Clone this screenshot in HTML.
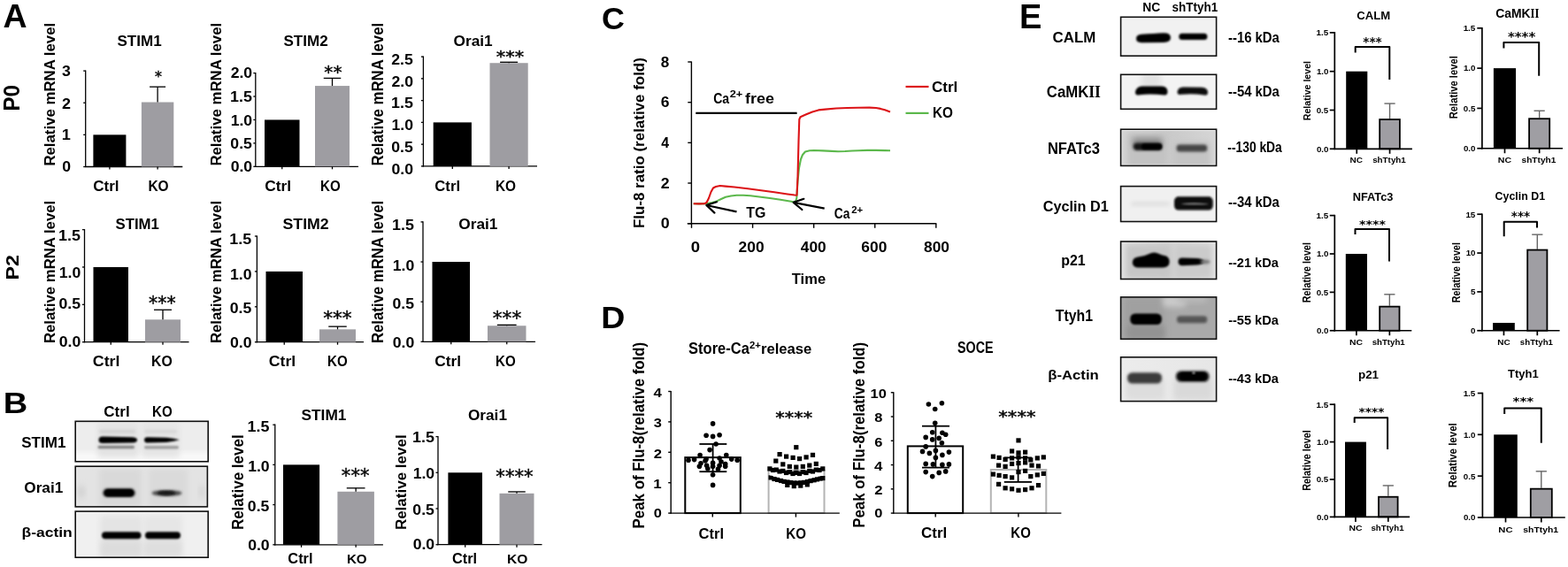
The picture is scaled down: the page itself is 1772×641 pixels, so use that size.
<!DOCTYPE html>
<html><head><meta charset="utf-8"><title>Figure</title>
<style>html,body{margin:0;padding:0;background:#fff;}svg{display:block;}</style></head>
<body><svg width="1772" height="641" viewBox="0 0 1772 641" font-family="'Liberation Sans', Arial, sans-serif">
<rect width="1772" height="641" fill="#fff"/>
<defs>
<filter id="b05" x="-20%" y="-50%" width="140%" height="200%"><feGaussianBlur stdDeviation="0.5"/></filter>
<filter id="b1" x="-20%" y="-50%" width="140%" height="200%"><feGaussianBlur stdDeviation="1.1"/></filter>
<filter id="b15" x="-20%" y="-50%" width="140%" height="200%"><feGaussianBlur stdDeviation="1.5"/></filter>
<filter id="b2" x="-20%" y="-50%" width="140%" height="200%"><feGaussianBlur stdDeviation="2"/></filter>
<filter id="b3" x="-30%" y="-50%" width="160%" height="200%"><feGaussianBlur stdDeviation="3"/></filter>
<linearGradient id="gnf" x1="0" y1="0" x2="1" y2="0"><stop offset="0" stop-color="#d4d4d4"/><stop offset="0.5" stop-color="#c9c9c9"/><stop offset="1" stop-color="#d6d6d6"/></linearGradient>
<linearGradient id="gp21" x1="0" y1="0" x2="1" y2="0"><stop offset="0" stop-color="#e2e2e2"/><stop offset="0.5" stop-color="#d4d4d4"/><stop offset="1" stop-color="#e4e4e4"/></linearGradient>
<linearGradient id="gba" x1="0" y1="0" x2="1" y2="0"><stop offset="0" stop-color="#ececec"/><stop offset="1" stop-color="#e6e6e6"/></linearGradient>
</defs>
<line x1="96.70" y1="79.50" x2="96.70" y2="189.10" stroke="#000" stroke-width="1.3" />
<line x1="96.10" y1="188.50" x2="206.30" y2="188.50" stroke="#000" stroke-width="1.3" />
<line x1="94.20" y1="188.50" x2="96.70" y2="188.50" stroke="#000" stroke-width="1.3" />
<line x1="94.20" y1="152.37" x2="96.70" y2="152.37" stroke="#000" stroke-width="1.3" />
<line x1="94.20" y1="116.23" x2="96.70" y2="116.23" stroke="#000" stroke-width="1.3" />
<line x1="94.20" y1="80.10" x2="96.70" y2="80.10" stroke="#000" stroke-width="1.3" />
<rect x="105.40" y="152.37" width="37.00" height="36.13" fill="#000" stroke="none" stroke-width="0" />
<line x1="123.90" y1="188.50" x2="123.90" y2="191.50" stroke="#000" stroke-width="1.3" />
<rect x="159.90" y="115.51" width="36.40" height="72.99" fill="#9e9da2" stroke="none" stroke-width="0" />
<line x1="178.10" y1="188.50" x2="178.10" y2="191.50" stroke="#000" stroke-width="1.3" />
<line x1="178.10" y1="115.51" x2="178.10" y2="98.17" stroke="#000" stroke-width="1.3" />
<line x1="169.10" y1="98.17" x2="187.10" y2="98.17" stroke="#000" stroke-width="1.3" />
<text x="70.20" y="194.04" font-family="'Liberation Sans', Arial, sans-serif" font-size="15.77" font-weight="bold" fill="#000" textLength="9.83" lengthAdjust="spacingAndGlyphs" >0</text>
<text x="69.66" y="158.20" font-family="'Liberation Sans', Arial, sans-serif" font-size="16.23" font-weight="bold" fill="#000" textLength="10.11" lengthAdjust="spacingAndGlyphs" >1</text>
<text x="70.07" y="122.60" font-family="'Liberation Sans', Arial, sans-serif" font-size="16.00" font-weight="bold" fill="#000" textLength="9.97" lengthAdjust="spacingAndGlyphs" >2</text>
<text x="70.11" y="86.44" font-family="'Liberation Sans', Arial, sans-serif" font-size="15.77" font-weight="bold" fill="#000" textLength="9.83" lengthAdjust="spacingAndGlyphs" >3</text>
<text x="132.49" y="51.64" font-family="'Liberation Sans', Arial, sans-serif" font-size="16.06" font-weight="bold" fill="#000" textLength="50.24" lengthAdjust="spacingAndGlyphs" >STIM1</text>
<text transform="translate(62.33,187.59) rotate(-90)" x="0" y="0" font-family="'Liberation Sans', Arial, sans-serif" font-size="17.28" font-weight="bold" fill="#000" textLength="161.75" lengthAdjust="spacingAndGlyphs">Relative mRNA level</text>
<text x="175.02" y="92.07" font-family="'DejaVu Sans', sans-serif" font-size="16.30" font-weight="normal" fill="#000" textLength="7.95" lengthAdjust="spacingAndGlyphs" stroke="#000" stroke-width="0.4">*</text>
<text x="105.22" y="216.23" font-family="'Liberation Sans', Arial, sans-serif" font-size="16.60" font-weight="bold" fill="#000" textLength="29.33" lengthAdjust="spacingAndGlyphs" >Ctrl</text>
<text x="167.39" y="216.24" font-family="'Liberation Sans', Arial, sans-serif" font-size="16.06" font-weight="bold" fill="#000" textLength="23.20" lengthAdjust="spacingAndGlyphs" >KO</text>
<line x1="288.80" y1="82.00" x2="288.80" y2="188.90" stroke="#000" stroke-width="1.3" />
<line x1="288.20" y1="188.30" x2="405.00" y2="188.30" stroke="#000" stroke-width="1.3" />
<line x1="286.30" y1="188.30" x2="288.80" y2="188.30" stroke="#000" stroke-width="1.3" />
<line x1="286.30" y1="161.88" x2="288.80" y2="161.88" stroke="#000" stroke-width="1.3" />
<line x1="286.30" y1="135.45" x2="288.80" y2="135.45" stroke="#000" stroke-width="1.3" />
<line x1="286.30" y1="109.03" x2="288.80" y2="109.03" stroke="#000" stroke-width="1.3" />
<line x1="286.30" y1="82.60" x2="288.80" y2="82.60" stroke="#000" stroke-width="1.3" />
<rect x="299.00" y="135.45" width="39.50" height="52.85" fill="#000" stroke="none" stroke-width="0" />
<line x1="318.75" y1="188.30" x2="318.75" y2="191.30" stroke="#000" stroke-width="1.3" />
<rect x="356.00" y="97.08" width="39.00" height="91.22" fill="#9e9da2" stroke="none" stroke-width="0" />
<line x1="375.50" y1="188.30" x2="375.50" y2="191.30" stroke="#000" stroke-width="1.3" />
<line x1="375.50" y1="97.08" x2="375.50" y2="88.41" stroke="#000" stroke-width="1.3" />
<line x1="365.75" y1="88.41" x2="385.25" y2="88.41" stroke="#000" stroke-width="1.3" />
<text x="260.65" y="193.94" font-family="'Liberation Sans', Arial, sans-serif" font-size="15.77" font-weight="bold" fill="#000" textLength="24.56" lengthAdjust="spacingAndGlyphs" >0.0</text>
<text x="260.38" y="168.04" font-family="'Liberation Sans', Arial, sans-serif" font-size="15.77" font-weight="bold" fill="#000" textLength="24.56" lengthAdjust="spacingAndGlyphs" >0.5</text>
<text x="260.65" y="141.74" font-family="'Liberation Sans', Arial, sans-serif" font-size="15.77" font-weight="bold" fill="#000" textLength="24.56" lengthAdjust="spacingAndGlyphs" >1.0</text>
<text x="260.04" y="114.84" font-family="'Liberation Sans', Arial, sans-serif" font-size="16.00" font-weight="bold" fill="#000" textLength="24.91" lengthAdjust="spacingAndGlyphs" >1.5</text>
<text x="260.65" y="88.14" font-family="'Liberation Sans', Arial, sans-serif" font-size="15.77" font-weight="bold" fill="#000" textLength="24.56" lengthAdjust="spacingAndGlyphs" >2.0</text>
<text x="320.49" y="51.63" font-family="'Liberation Sans', Arial, sans-serif" font-size="16.76" font-weight="bold" fill="#000" textLength="50.19" lengthAdjust="spacingAndGlyphs" >STIM2</text>
<text transform="translate(250.44,187.59) rotate(-90)" x="0" y="0" font-family="'Liberation Sans', Arial, sans-serif" font-size="16.05" font-weight="bold" fill="#000" textLength="161.75" lengthAdjust="spacingAndGlyphs">Relative mRNA level</text>
<text x="366.39" y="87.98" font-family="'DejaVu Sans', sans-serif" font-size="19.57" font-weight="normal" fill="#000" textLength="20.21" lengthAdjust="spacingAndGlyphs" stroke="#000" stroke-width="0.4">**</text>
<text x="299.31" y="216.23" font-family="'Liberation Sans', Arial, sans-serif" font-size="16.60" font-weight="bold" fill="#000" textLength="29.86" lengthAdjust="spacingAndGlyphs" >Ctrl</text>
<text x="362.02" y="216.24" font-family="'Liberation Sans', Arial, sans-serif" font-size="16.06" font-weight="bold" fill="#000" textLength="22.66" lengthAdjust="spacingAndGlyphs" >KO</text>
<line x1="478.40" y1="63.50" x2="478.40" y2="188.50" stroke="#000" stroke-width="1.3" />
<line x1="477.80" y1="187.90" x2="607.00" y2="187.90" stroke="#000" stroke-width="1.3" />
<line x1="475.90" y1="187.90" x2="478.40" y2="187.90" stroke="#000" stroke-width="1.3" />
<line x1="475.90" y1="163.14" x2="478.40" y2="163.14" stroke="#000" stroke-width="1.3" />
<line x1="475.90" y1="138.38" x2="478.40" y2="138.38" stroke="#000" stroke-width="1.3" />
<line x1="475.90" y1="113.62" x2="478.40" y2="113.62" stroke="#000" stroke-width="1.3" />
<line x1="475.90" y1="88.86" x2="478.40" y2="88.86" stroke="#000" stroke-width="1.3" />
<line x1="475.90" y1="64.10" x2="478.40" y2="64.10" stroke="#000" stroke-width="1.3" />
<rect x="489.70" y="138.38" width="43.20" height="49.52" fill="#000" stroke="none" stroke-width="0" />
<line x1="511.30" y1="187.90" x2="511.30" y2="190.90" stroke="#000" stroke-width="1.3" />
<rect x="553.50" y="71.23" width="43.20" height="116.67" fill="#9e9da2" stroke="none" stroke-width="0" />
<line x1="575.10" y1="187.90" x2="575.10" y2="190.90" stroke="#000" stroke-width="1.3" />
<line x1="575.10" y1="71.23" x2="575.10" y2="70.29" stroke="#000" stroke-width="1.3" />
<line x1="565.10" y1="70.29" x2="585.10" y2="70.29" stroke="#000" stroke-width="1.3" />
<text x="442.55" y="196.74" font-family="'Liberation Sans', Arial, sans-serif" font-size="15.77" font-weight="bold" fill="#000" textLength="24.56" lengthAdjust="spacingAndGlyphs" >0.0</text>
<text x="442.28" y="171.98" font-family="'Liberation Sans', Arial, sans-serif" font-size="15.77" font-weight="bold" fill="#000" textLength="24.56" lengthAdjust="spacingAndGlyphs" >0.5</text>
<text x="442.55" y="147.22" font-family="'Liberation Sans', Arial, sans-serif" font-size="15.77" font-weight="bold" fill="#000" textLength="24.56" lengthAdjust="spacingAndGlyphs" >1.0</text>
<text x="441.94" y="122.46" font-family="'Liberation Sans', Arial, sans-serif" font-size="16.00" font-weight="bold" fill="#000" textLength="24.91" lengthAdjust="spacingAndGlyphs" >1.5</text>
<text x="442.55" y="97.70" font-family="'Liberation Sans', Arial, sans-serif" font-size="15.77" font-weight="bold" fill="#000" textLength="24.56" lengthAdjust="spacingAndGlyphs" >2.0</text>
<text x="442.28" y="72.94" font-family="'Liberation Sans', Arial, sans-serif" font-size="15.77" font-weight="bold" fill="#000" textLength="24.56" lengthAdjust="spacingAndGlyphs" >2.5</text>
<text x="512.61" y="51.64" font-family="'Liberation Sans', Arial, sans-serif" font-size="16.46" font-weight="bold" fill="#000" textLength="44.06" lengthAdjust="spacingAndGlyphs" >Orai1</text>
<text transform="translate(433.42,187.59) rotate(-90)" x="0" y="0" font-family="'Liberation Sans', Arial, sans-serif" font-size="17.69" font-weight="bold" fill="#000" textLength="161.75" lengthAdjust="spacingAndGlyphs">Relative mRNA level</text>
<text x="560.87" y="69.97" font-family="'DejaVu Sans', sans-serif" font-size="18.48" font-weight="normal" fill="#000" textLength="31.35" lengthAdjust="spacingAndGlyphs" stroke="#000" stroke-width="0.4">***</text>
<text x="491.33" y="216.23" font-family="'Liberation Sans', Arial, sans-serif" font-size="16.60" font-weight="bold" fill="#000" textLength="28.69" lengthAdjust="spacingAndGlyphs" >Ctrl</text>
<text x="559.90" y="216.24" font-family="'Liberation Sans', Arial, sans-serif" font-size="16.06" font-weight="bold" fill="#000" textLength="23.09" lengthAdjust="spacingAndGlyphs" >KO</text>
<line x1="95.50" y1="259.00" x2="95.50" y2="387.30" stroke="#000" stroke-width="1.3" />
<line x1="94.90" y1="386.70" x2="213.50" y2="386.70" stroke="#000" stroke-width="1.3" />
<line x1="93.00" y1="386.70" x2="95.50" y2="386.70" stroke="#000" stroke-width="1.3" />
<line x1="93.00" y1="344.33" x2="95.50" y2="344.33" stroke="#000" stroke-width="1.3" />
<line x1="93.00" y1="301.97" x2="95.50" y2="301.97" stroke="#000" stroke-width="1.3" />
<line x1="93.00" y1="259.60" x2="95.50" y2="259.60" stroke="#000" stroke-width="1.3" />
<rect x="105.50" y="301.97" width="39.50" height="84.73" fill="#000" stroke="none" stroke-width="0" />
<line x1="125.25" y1="386.70" x2="125.25" y2="389.70" stroke="#000" stroke-width="1.3" />
<rect x="164.00" y="361.28" width="40.00" height="25.42" fill="#9e9da2" stroke="none" stroke-width="0" />
<line x1="184.00" y1="386.70" x2="184.00" y2="389.70" stroke="#000" stroke-width="1.3" />
<line x1="184.00" y1="361.28" x2="184.00" y2="350.26" stroke="#000" stroke-width="1.3" />
<line x1="174.00" y1="350.26" x2="194.00" y2="350.26" stroke="#000" stroke-width="1.3" />
<text x="66.75" y="391.84" font-family="'Liberation Sans', Arial, sans-serif" font-size="15.77" font-weight="bold" fill="#000" textLength="24.56" lengthAdjust="spacingAndGlyphs" >0.0</text>
<text x="66.48" y="349.24" font-family="'Liberation Sans', Arial, sans-serif" font-size="15.77" font-weight="bold" fill="#000" textLength="24.56" lengthAdjust="spacingAndGlyphs" >0.5</text>
<text x="66.75" y="313.54" font-family="'Liberation Sans', Arial, sans-serif" font-size="15.77" font-weight="bold" fill="#000" textLength="24.56" lengthAdjust="spacingAndGlyphs" >1.0</text>
<text x="66.14" y="271.84" font-family="'Liberation Sans', Arial, sans-serif" font-size="16.00" font-weight="bold" fill="#000" textLength="24.91" lengthAdjust="spacingAndGlyphs" >1.5</text>
<text x="130.50" y="259.34" font-family="'Liberation Sans', Arial, sans-serif" font-size="16.20" font-weight="bold" fill="#000" textLength="49.42" lengthAdjust="spacingAndGlyphs" >STIM1</text>
<text transform="translate(62.03,388.09) rotate(-90)" x="0" y="0" font-family="'Liberation Sans', Arial, sans-serif" font-size="16.87" font-weight="bold" fill="#000" textLength="161.24" lengthAdjust="spacingAndGlyphs">Relative mRNA level</text>
<text x="168.09" y="350.09" font-family="'DejaVu Sans', sans-serif" font-size="21.74" font-weight="normal" fill="#000" textLength="30.52" lengthAdjust="spacingAndGlyphs" stroke="#000" stroke-width="0.4">***</text>
<text x="104.79" y="413.84" font-family="'Liberation Sans', Arial, sans-serif" font-size="16.33" font-weight="bold" fill="#000" textLength="30.71" lengthAdjust="spacingAndGlyphs" >Ctrl</text>
<text x="170.97" y="413.84" font-family="'Liberation Sans', Arial, sans-serif" font-size="15.77" font-weight="bold" fill="#000" textLength="23.74" lengthAdjust="spacingAndGlyphs" >KO</text>
<line x1="290.40" y1="266.40" x2="290.40" y2="387.30" stroke="#000" stroke-width="1.3" />
<line x1="289.80" y1="386.70" x2="411.00" y2="386.70" stroke="#000" stroke-width="1.3" />
<line x1="287.90" y1="386.70" x2="290.40" y2="386.70" stroke="#000" stroke-width="1.3" />
<line x1="287.90" y1="346.80" x2="290.40" y2="346.80" stroke="#000" stroke-width="1.3" />
<line x1="287.90" y1="306.90" x2="290.40" y2="306.90" stroke="#000" stroke-width="1.3" />
<line x1="287.90" y1="267.00" x2="290.40" y2="267.00" stroke="#000" stroke-width="1.3" />
<rect x="300.50" y="306.90" width="41.50" height="79.80" fill="#000" stroke="none" stroke-width="0" />
<line x1="321.25" y1="386.70" x2="321.25" y2="389.70" stroke="#000" stroke-width="1.3" />
<rect x="361.00" y="372.34" width="41.00" height="14.36" fill="#9e9da2" stroke="none" stroke-width="0" />
<line x1="381.50" y1="386.70" x2="381.50" y2="389.70" stroke="#000" stroke-width="1.3" />
<line x1="381.50" y1="372.34" x2="381.50" y2="369.14" stroke="#000" stroke-width="1.3" />
<line x1="371.25" y1="369.14" x2="391.75" y2="369.14" stroke="#000" stroke-width="1.3" />
<text x="259.95" y="393.04" font-family="'Liberation Sans', Arial, sans-serif" font-size="15.77" font-weight="bold" fill="#000" textLength="24.56" lengthAdjust="spacingAndGlyphs" >0.0</text>
<text x="259.68" y="353.94" font-family="'Liberation Sans', Arial, sans-serif" font-size="15.77" font-weight="bold" fill="#000" textLength="24.56" lengthAdjust="spacingAndGlyphs" >0.5</text>
<text x="259.95" y="316.34" font-family="'Liberation Sans', Arial, sans-serif" font-size="15.77" font-weight="bold" fill="#000" textLength="24.56" lengthAdjust="spacingAndGlyphs" >1.0</text>
<text x="259.34" y="276.24" font-family="'Liberation Sans', Arial, sans-serif" font-size="16.00" font-weight="bold" fill="#000" textLength="24.91" lengthAdjust="spacingAndGlyphs" >1.5</text>
<text x="319.47" y="259.34" font-family="'Liberation Sans', Arial, sans-serif" font-size="16.20" font-weight="bold" fill="#000" textLength="52.24" lengthAdjust="spacingAndGlyphs" >STIM2</text>
<text transform="translate(249.84,388.09) rotate(-90)" x="0" y="0" font-family="'Liberation Sans', Arial, sans-serif" font-size="16.33" font-weight="bold" fill="#000" textLength="161.24" lengthAdjust="spacingAndGlyphs">Relative mRNA level</text>
<text x="365.15" y="367.09" font-family="'DejaVu Sans', sans-serif" font-size="21.74" font-weight="normal" fill="#000" textLength="32.50" lengthAdjust="spacingAndGlyphs" stroke="#000" stroke-width="0.4">***</text>
<text x="303.79" y="413.84" font-family="'Liberation Sans', Arial, sans-serif" font-size="16.33" font-weight="bold" fill="#000" textLength="30.39" lengthAdjust="spacingAndGlyphs" >Ctrl</text>
<text x="370.02" y="413.84" font-family="'Liberation Sans', Arial, sans-serif" font-size="15.77" font-weight="bold" fill="#000" textLength="22.66" lengthAdjust="spacingAndGlyphs" >KO</text>
<line x1="478.00" y1="250.30" x2="478.00" y2="386.90" stroke="#000" stroke-width="1.3" />
<line x1="477.40" y1="386.30" x2="605.00" y2="386.30" stroke="#000" stroke-width="1.3" />
<line x1="475.50" y1="386.30" x2="478.00" y2="386.30" stroke="#000" stroke-width="1.3" />
<line x1="475.50" y1="341.17" x2="478.00" y2="341.17" stroke="#000" stroke-width="1.3" />
<line x1="475.50" y1="296.03" x2="478.00" y2="296.03" stroke="#000" stroke-width="1.3" />
<line x1="475.50" y1="250.90" x2="478.00" y2="250.90" stroke="#000" stroke-width="1.3" />
<rect x="488.50" y="296.03" width="42.50" height="90.27" fill="#000" stroke="none" stroke-width="0" />
<line x1="509.75" y1="386.30" x2="509.75" y2="389.30" stroke="#000" stroke-width="1.3" />
<rect x="551.00" y="368.25" width="43.50" height="18.05" fill="#9e9da2" stroke="none" stroke-width="0" />
<line x1="572.75" y1="386.30" x2="572.75" y2="389.30" stroke="#000" stroke-width="1.3" />
<line x1="572.75" y1="368.25" x2="572.75" y2="367.34" stroke="#000" stroke-width="1.3" />
<line x1="561.88" y1="367.34" x2="583.62" y2="367.34" stroke="#000" stroke-width="1.3" />
<text x="443.75" y="392.94" font-family="'Liberation Sans', Arial, sans-serif" font-size="15.77" font-weight="bold" fill="#000" textLength="24.56" lengthAdjust="spacingAndGlyphs" >0.0</text>
<text x="443.48" y="348.64" font-family="'Liberation Sans', Arial, sans-serif" font-size="15.77" font-weight="bold" fill="#000" textLength="24.56" lengthAdjust="spacingAndGlyphs" >0.5</text>
<text x="443.75" y="306.14" font-family="'Liberation Sans', Arial, sans-serif" font-size="15.77" font-weight="bold" fill="#000" textLength="24.56" lengthAdjust="spacingAndGlyphs" >1.0</text>
<text x="443.14" y="259.94" font-family="'Liberation Sans', Arial, sans-serif" font-size="16.00" font-weight="bold" fill="#000" textLength="24.91" lengthAdjust="spacingAndGlyphs" >1.5</text>
<text x="518.31" y="259.34" font-family="'Liberation Sans', Arial, sans-serif" font-size="15.65" font-weight="bold" fill="#000" textLength="44.16" lengthAdjust="spacingAndGlyphs" >Orai1</text>
<text transform="translate(432.82,388.09) rotate(-90)" x="0" y="0" font-family="'Liberation Sans', Arial, sans-serif" font-size="17.69" font-weight="bold" fill="#000" textLength="161.24" lengthAdjust="spacingAndGlyphs">Relative mRNA level</text>
<text x="556.75" y="367.09" font-family="'DejaVu Sans', sans-serif" font-size="21.74" font-weight="normal" fill="#000" textLength="32.50" lengthAdjust="spacingAndGlyphs" stroke="#000" stroke-width="0.4">***</text>
<text x="491.31" y="413.84" font-family="'Liberation Sans', Arial, sans-serif" font-size="16.33" font-weight="bold" fill="#000" textLength="29.86" lengthAdjust="spacingAndGlyphs" >Ctrl</text>
<text x="560.02" y="413.84" font-family="'Liberation Sans', Arial, sans-serif" font-size="15.77" font-weight="bold" fill="#000" textLength="22.66" lengthAdjust="spacingAndGlyphs" >KO</text>
<line x1="310.80" y1="479.60" x2="310.80" y2="616.40" stroke="#000" stroke-width="1.3" />
<line x1="310.20" y1="615.80" x2="432.90" y2="615.80" stroke="#000" stroke-width="1.3" />
<line x1="308.30" y1="615.80" x2="310.80" y2="615.80" stroke="#000" stroke-width="1.3" />
<line x1="308.30" y1="570.60" x2="310.80" y2="570.60" stroke="#000" stroke-width="1.3" />
<line x1="308.30" y1="525.40" x2="310.80" y2="525.40" stroke="#000" stroke-width="1.3" />
<line x1="308.30" y1="480.20" x2="310.80" y2="480.20" stroke="#000" stroke-width="1.3" />
<rect x="320.00" y="525.40" width="41.10" height="90.40" fill="#000" stroke="none" stroke-width="0" />
<line x1="340.55" y1="615.80" x2="340.55" y2="618.80" stroke="#000" stroke-width="1.3" />
<rect x="381.40" y="555.77" width="41.50" height="60.03" fill="#9e9da2" stroke="none" stroke-width="0" />
<line x1="402.15" y1="615.80" x2="402.15" y2="618.80" stroke="#000" stroke-width="1.3" />
<line x1="402.15" y1="555.77" x2="402.15" y2="551.80" stroke="#000" stroke-width="1.3" />
<line x1="391.77" y1="551.80" x2="412.52" y2="551.80" stroke="#000" stroke-width="1.3" />
<text x="280.15" y="621.74" font-family="'Liberation Sans', Arial, sans-serif" font-size="15.77" font-weight="bold" fill="#000" textLength="24.56" lengthAdjust="spacingAndGlyphs" >0.0</text>
<text x="279.88" y="577.54" font-family="'Liberation Sans', Arial, sans-serif" font-size="15.77" font-weight="bold" fill="#000" textLength="24.56" lengthAdjust="spacingAndGlyphs" >0.5</text>
<text x="280.15" y="532.64" font-family="'Liberation Sans', Arial, sans-serif" font-size="15.77" font-weight="bold" fill="#000" textLength="24.56" lengthAdjust="spacingAndGlyphs" >1.0</text>
<text x="279.54" y="487.74" font-family="'Liberation Sans', Arial, sans-serif" font-size="16.00" font-weight="bold" fill="#000" textLength="24.91" lengthAdjust="spacingAndGlyphs" >1.5</text>
<text x="340.48" y="474.83" font-family="'Liberation Sans', Arial, sans-serif" font-size="16.90" font-weight="bold" fill="#000" textLength="50.95" lengthAdjust="spacingAndGlyphs" >STIM1</text>
<text transform="translate(274.81,599.11) rotate(-90)" x="0" y="0" font-family="'Liberation Sans', Arial, sans-serif" font-size="19.05" font-weight="bold" fill="#000" textLength="107.75" lengthAdjust="spacingAndGlyphs">Relative level</text>
<text x="385.87" y="544.57" font-family="'DejaVu Sans', sans-serif" font-size="21.30" font-weight="normal" fill="#000" textLength="31.56" lengthAdjust="spacingAndGlyphs" stroke="#000" stroke-width="0.4">***</text>
<text x="325.35" y="637.24" font-family="'Liberation Sans', Arial, sans-serif" font-size="16.19" font-weight="bold" fill="#000" textLength="28.15" lengthAdjust="spacingAndGlyphs" >Ctrl</text>
<text x="391.92" y="637.25" font-family="'Liberation Sans', Arial, sans-serif" font-size="15.35" font-weight="bold" fill="#000" textLength="22.66" lengthAdjust="spacingAndGlyphs" >KO</text>
<line x1="495.00" y1="493.00" x2="495.00" y2="616.30" stroke="#000" stroke-width="1.3" />
<line x1="494.40" y1="615.70" x2="612.50" y2="615.70" stroke="#000" stroke-width="1.3" />
<line x1="492.50" y1="615.70" x2="495.00" y2="615.70" stroke="#000" stroke-width="1.3" />
<line x1="492.50" y1="575.00" x2="495.00" y2="575.00" stroke="#000" stroke-width="1.3" />
<line x1="492.50" y1="534.30" x2="495.00" y2="534.30" stroke="#000" stroke-width="1.3" />
<line x1="492.50" y1="493.60" x2="495.00" y2="493.60" stroke="#000" stroke-width="1.3" />
<rect x="506.40" y="534.30" width="38.60" height="81.40" fill="#000" stroke="none" stroke-width="0" />
<line x1="525.70" y1="615.70" x2="525.70" y2="618.70" stroke="#000" stroke-width="1.3" />
<rect x="564.50" y="557.82" width="39.00" height="57.88" fill="#9e9da2" stroke="none" stroke-width="0" />
<line x1="584.00" y1="615.70" x2="584.00" y2="618.70" stroke="#000" stroke-width="1.3" />
<line x1="584.00" y1="557.82" x2="584.00" y2="555.95" stroke="#000" stroke-width="1.3" />
<line x1="574.25" y1="555.95" x2="593.75" y2="555.95" stroke="#000" stroke-width="1.3" />
<text x="466.65" y="621.24" font-family="'Liberation Sans', Arial, sans-serif" font-size="15.77" font-weight="bold" fill="#000" textLength="24.56" lengthAdjust="spacingAndGlyphs" >0.0</text>
<text x="466.38" y="581.94" font-family="'Liberation Sans', Arial, sans-serif" font-size="15.77" font-weight="bold" fill="#000" textLength="24.56" lengthAdjust="spacingAndGlyphs" >0.5</text>
<text x="466.65" y="540.84" font-family="'Liberation Sans', Arial, sans-serif" font-size="15.77" font-weight="bold" fill="#000" textLength="24.56" lengthAdjust="spacingAndGlyphs" >1.0</text>
<text x="466.04" y="499.54" font-family="'Liberation Sans', Arial, sans-serif" font-size="16.00" font-weight="bold" fill="#000" textLength="24.91" lengthAdjust="spacingAndGlyphs" >1.5</text>
<text x="529.01" y="474.84" font-family="'Liberation Sans', Arial, sans-serif" font-size="16.33" font-weight="bold" fill="#000" textLength="43.95" lengthAdjust="spacingAndGlyphs" >Orai1</text>
<text transform="translate(458.63,599.11) rotate(-90)" x="0" y="0" font-family="'Liberation Sans', Arial, sans-serif" font-size="16.87" font-weight="bold" fill="#000" textLength="107.75" lengthAdjust="spacingAndGlyphs">Relative level</text>
<text x="560.37" y="546.33" font-family="'DejaVu Sans', sans-serif" font-size="21.52" font-weight="normal" fill="#000" textLength="42.27" lengthAdjust="spacingAndGlyphs" stroke="#000" stroke-width="0.4">****</text>
<text x="510.95" y="637.24" font-family="'Liberation Sans', Arial, sans-serif" font-size="16.19" font-weight="bold" fill="#000" textLength="28.15" lengthAdjust="spacingAndGlyphs" >Ctrl</text>
<text x="572.99" y="637.25" font-family="'Liberation Sans', Arial, sans-serif" font-size="15.35" font-weight="bold" fill="#000" textLength="23.31" lengthAdjust="spacingAndGlyphs" >KO</text>
<text x="3.56" y="31.00" font-family="'Liberation Sans', Arial, sans-serif" font-size="36.23" font-weight="bold" fill="#000" textLength="27.06" lengthAdjust="spacingAndGlyphs" >A</text>
<text transform="translate(22.15,125.57) rotate(-90)" x="0" y="0" font-family="'Liberation Sans', Arial, sans-serif" font-size="25.21" font-weight="bold" fill="#000" textLength="29.62" lengthAdjust="spacingAndGlyphs">P0</text>
<text transform="translate(21.30,316.52) rotate(-90)" x="0" y="0" font-family="'Liberation Sans', Arial, sans-serif" font-size="20.14" font-weight="bold" fill="#000" textLength="28.52" lengthAdjust="spacingAndGlyphs">P2</text>
<text x="3.83" y="467.30" font-family="'Liberation Sans', Arial, sans-serif" font-size="34.06" font-weight="bold" fill="#000" textLength="27.47" lengthAdjust="spacingAndGlyphs" >B</text>
<clipPath id="cl1"><rect x="85.2" y="476.3" width="150.0" height="45.49999999999994"/></clipPath>
<g clip-path="url(#cl1)">
<rect x="85.20" y="476.30" width="150.00" height="45.50" fill="#ededed" stroke="none" stroke-width="0" />
<rect x="80.00" y="511.00" width="160.00" height="19.00" rx="0.00" fill="#f8f8f8" filter="url(#b2)"/>
<rect x="110.00" y="478.00" width="47.00" height="39.00" rx="2.00" fill="#e3e3e3" filter="url(#b3)"/>
<rect x="160.00" y="478.00" width="43.00" height="39.00" rx="2.00" fill="#e5e5e5" filter="url(#b3)"/>
<rect x="112.00" y="486.20" width="41.00" height="3.40" rx="1.70" fill="#d0d0d0" filter="url(#b15)"/>
<rect x="163.00" y="486.20" width="37.00" height="3.40" rx="1.70" fill="#d6d6d6" filter="url(#b15)"/>
<path d="M111.5,497.5 Q111.5,493.8 116,493.6 L150,494.2 Q155,494.8 155,497.5 Q155,500.2 150,500.6 L116,501 Q111.5,501 111.5,497.5 Z" fill="#000" filter="url(#b1)"/>
<path d="M163,497.5 Q163,494.2 167,494.3 L188,494.8 Q197,495.6 203,497.3 Q197,499 188,500 L167,500.6 Q163,500.6 163,497.5 Z" fill="#030303" filter="url(#b1)"/>
<rect x="110.50" y="503.80" width="41.50" height="3.50" rx="1.70" fill="#828282" filter="url(#b1)"/>
<rect x="163.00" y="504.00" width="39.00" height="3.40" rx="1.70" fill="#9c9c9c" filter="url(#b1)"/>
</g>
<rect x="85.20" y="476.30" width="150.00" height="45.50" fill="none" stroke="#111" stroke-width="1.6"/>
<clipPath id="cl2"><rect x="85.2" y="527.2" width="149.2" height="45.69999999999993"/></clipPath>
<g clip-path="url(#cl2)">
<rect x="85.20" y="527.20" width="149.20" height="45.70" fill="#e3e3e3" stroke="none" stroke-width="0" />
<rect x="112.00" y="530.00" width="48.00" height="45.00" rx="3.00" fill="#d9d9d9" filter="url(#b3)"/>
<rect x="168.00" y="530.00" width="44.00" height="45.00" rx="3.00" fill="#dadada" filter="url(#b3)"/>
<ellipse cx="92.00" cy="556.00" rx="4.00" ry="8.00" fill="#d2d2d2" filter="url(#b3)"/>
<ellipse cx="228.00" cy="556.00" rx="3.00" ry="8.00" fill="#d4d4d4" filter="url(#b3)"/>
<rect x="116.50" y="552.60" width="36.00" height="9.20" rx="4.60" fill="#000" filter="url(#b15)"/>
<rect x="119.00" y="553.60" width="31.00" height="7.20" rx="3.60" fill="#000" filter="url(#b1)"/>
<ellipse cx="188.50" cy="557.50" rx="17.00" ry="3.40" fill="#4a4a4a" filter="url(#b15)"/>
<ellipse cx="188.00" cy="557.30" rx="10.00" ry="2.40" fill="#151515" filter="url(#b1)"/>
</g>
<rect x="85.20" y="527.20" width="149.20" height="45.70" fill="none" stroke="#111" stroke-width="1.6"/>
<clipPath id="cl3"><rect x="85.2" y="578.1" width="150.0" height="52.10000000000002"/></clipPath>
<g clip-path="url(#cl3)">
<rect x="85.20" y="578.10" width="150.00" height="52.10" fill="#f0f0f0" stroke="none" stroke-width="0" />
<rect x="113.00" y="583.00" width="48.00" height="47.00" rx="2.00" fill="#e4e4e4" filter="url(#b3)"/>
<rect x="162.00" y="583.00" width="44.00" height="47.00" rx="2.00" fill="#e6e6e6" filter="url(#b3)"/>
<rect x="114.00" y="612.00" width="46.00" height="16.00" rx="2.00" fill="#dcdcdc" filter="url(#b3)"/>
<rect x="163.00" y="612.00" width="42.00" height="16.00" rx="2.00" fill="#dedede" filter="url(#b3)"/>
<rect x="115.00" y="601.30" width="44.50" height="8.00" rx="4.00" fill="#000" filter="url(#b1)"/>
<rect x="164.00" y="601.30" width="40.00" height="8.00" rx="4.00" fill="#000" filter="url(#b1)"/>
</g>
<rect x="85.20" y="578.10" width="150.00" height="52.10" fill="none" stroke="#111" stroke-width="1.6"/>
<text x="117.32" y="470.84" font-family="'Liberation Sans', Arial, sans-serif" font-size="15.65" font-weight="bold" fill="#000" textLength="29.33" lengthAdjust="spacingAndGlyphs" >Ctrl</text>
<text x="172.02" y="470.84" font-family="'Liberation Sans', Arial, sans-serif" font-size="16.20" font-weight="bold" fill="#000" textLength="22.66" lengthAdjust="spacingAndGlyphs" >KO</text>
<text x="24.19" y="506.33" font-family="'Liberation Sans', Arial, sans-serif" font-size="16.90" font-weight="bold" fill="#000" textLength="50.24" lengthAdjust="spacingAndGlyphs" >STIM1</text>
<text x="27.31" y="557.34" font-family="'Liberation Sans', Arial, sans-serif" font-size="16.33" font-weight="bold" fill="#000" textLength="43.95" lengthAdjust="spacingAndGlyphs" >Orai1</text>
<text x="24.48" y="607.23" font-family="'Liberation Sans', Arial, sans-serif" font-size="15.08" font-weight="bold" fill="#000" textLength="57.32" lengthAdjust="spacingAndGlyphs" >β-actin</text>
<text x="680.06" y="32.65" font-family="'Liberation Sans', Arial, sans-serif" font-size="35.21" font-weight="bold" fill="#000" textLength="25.91" lengthAdjust="spacingAndGlyphs" >C</text>
<line x1="781.40" y1="69.50" x2="781.40" y2="253.30" stroke="#000" stroke-width="1.4" />
<line x1="776.80" y1="252.70" x2="1058.30" y2="252.70" stroke="#000" stroke-width="1.4" />
<line x1="777.30" y1="252.70" x2="781.40" y2="252.70" stroke="#000" stroke-width="1.4" />
<line x1="777.30" y1="207.02" x2="781.40" y2="207.02" stroke="#000" stroke-width="1.4" />
<line x1="777.30" y1="161.35" x2="781.40" y2="161.35" stroke="#000" stroke-width="1.4" />
<line x1="777.30" y1="115.68" x2="781.40" y2="115.68" stroke="#000" stroke-width="1.4" />
<line x1="777.30" y1="70.00" x2="781.40" y2="70.00" stroke="#000" stroke-width="1.4" />
<line x1="781.50" y1="252.70" x2="781.50" y2="257.80" stroke="#000" stroke-width="1.4" />
<line x1="850.58" y1="252.70" x2="850.58" y2="257.80" stroke="#000" stroke-width="1.4" />
<line x1="919.66" y1="252.70" x2="919.66" y2="257.80" stroke="#000" stroke-width="1.4" />
<line x1="988.74" y1="252.70" x2="988.74" y2="257.80" stroke="#000" stroke-width="1.4" />
<line x1="1057.82" y1="252.70" x2="1057.82" y2="257.80" stroke="#000" stroke-width="1.4" />
<text x="746.68" y="258.24" font-family="'Liberation Sans', Arial, sans-serif" font-size="16.06" font-weight="bold" fill="#000" textLength="9.95" lengthAdjust="spacingAndGlyphs" >0</text>
<text x="746.78" y="212.72" font-family="'Liberation Sans', Arial, sans-serif" font-size="16.29" font-weight="bold" fill="#000" textLength="9.85" lengthAdjust="spacingAndGlyphs" >2</text>
<text x="747.16" y="167.05" font-family="'Liberation Sans', Arial, sans-serif" font-size="16.52" font-weight="bold" fill="#000" textLength="8.84" lengthAdjust="spacingAndGlyphs" >4</text>
<text x="746.79" y="121.21" font-family="'Liberation Sans', Arial, sans-serif" font-size="16.06" font-weight="bold" fill="#000" textLength="9.75" lengthAdjust="spacingAndGlyphs" >6</text>
<text x="746.88" y="75.54" font-family="'Liberation Sans', Arial, sans-serif" font-size="16.06" font-weight="bold" fill="#000" textLength="9.55" lengthAdjust="spacingAndGlyphs" >8</text>
<text x="780.76" y="285.24" font-family="'Liberation Sans', Arial, sans-serif" font-size="16.20" font-weight="bold" fill="#000" textLength="10.30" lengthAdjust="spacingAndGlyphs" >0</text>
<text x="834.59" y="285.24" font-family="'Liberation Sans', Arial, sans-serif" font-size="16.20" font-weight="bold" fill="#000" textLength="28.96" lengthAdjust="spacingAndGlyphs" >200</text>
<text x="904.84" y="285.24" font-family="'Liberation Sans', Arial, sans-serif" font-size="16.20" font-weight="bold" fill="#000" textLength="28.81" lengthAdjust="spacingAndGlyphs" >400</text>
<text x="973.39" y="285.24" font-family="'Liberation Sans', Arial, sans-serif" font-size="16.20" font-weight="bold" fill="#000" textLength="28.96" lengthAdjust="spacingAndGlyphs" >600</text>
<text x="1043.98" y="285.24" font-family="'Liberation Sans', Arial, sans-serif" font-size="16.20" font-weight="bold" fill="#000" textLength="28.98" lengthAdjust="spacingAndGlyphs" >800</text>
<text x="894.83" y="321.43" font-family="'Liberation Sans', Arial, sans-serif" font-size="16.60" font-weight="bold" fill="#000" textLength="38.26" lengthAdjust="spacingAndGlyphs" >Time</text>
<text transform="translate(728.10,258.10) rotate(-90)" x="0" y="0" font-family="'Liberation Sans', Arial, sans-serif" font-size="16.41" font-weight="bold" fill="#000" textLength="192.95" lengthAdjust="spacingAndGlyphs">Flu-8 ratio (relative fold)</text>
<text x="806.14" y="116.84" font-family="'Liberation Sans', Arial, sans-serif" font-size="16.48" font-weight="bold" fill="#000" textLength="17.97" lengthAdjust="spacingAndGlyphs" >Ca</text>
<text x="824.65" y="109.80" font-family="'Liberation Sans', Arial, sans-serif" font-size="11.57" font-weight="bold" fill="#000" textLength="14.56" lengthAdjust="spacingAndGlyphs" >2+</text>
<text x="842.03" y="116.83" font-family="'Liberation Sans', Arial, sans-serif" font-size="17.14" font-weight="bold" fill="#000" textLength="32.89" lengthAdjust="spacingAndGlyphs" >free</text>
<line x1="786.30" y1="127.90" x2="900.60" y2="127.90" stroke="#000" stroke-width="2.2" />
<line x1="1023.50" y1="98.00" x2="1049.50" y2="98.00" stroke="#dc1418" stroke-width="2.2" />
<text x="1052.92" y="103.64" font-family="'Liberation Sans', Arial, sans-serif" font-size="16.46" font-weight="bold" fill="#000" textLength="29.43" lengthAdjust="spacingAndGlyphs" >Ctrl</text>
<line x1="1023.50" y1="127.90" x2="1049.50" y2="127.90" stroke="#5cb84c" stroke-width="2.2" />
<text x="1053.90" y="133.13" font-family="'Liberation Sans', Arial, sans-serif" font-size="16.62" font-weight="bold" fill="#000" textLength="22.99" lengthAdjust="spacingAndGlyphs" >KO</text>
<polyline points="783.70,230.20 790.00,230.40 798.00,230.30 805.00,229.00 810.00,227.40 815.00,225.00 820.00,222.80 826.00,221.50 832.50,220.80 840.00,220.80 848.00,221.30 858.00,222.50 870.00,224.00 882.00,225.80 894.00,227.80 898.70,228.70 900.30,224.00 901.50,205.00 903.00,190.00 905.00,180.00 907.00,175.00 910.00,171.50 915.00,170.30 920.00,170.00 930.00,170.40 940.00,170.90 947.00,171.20 955.00,171.00 963.00,170.50 970.00,170.20 980.00,169.90 990.00,169.90 1000.00,170.10 1006.00,170.20" fill="none" stroke="#5cb84c" stroke-width="2.1" stroke-linejoin="round" />
<polyline points="783.70,230.20 790.00,230.40 796.00,230.20 798.50,229.00 801.00,224.00 803.50,217.00 806.00,212.50 809.00,211.00 813.70,210.00 820.00,210.60 830.00,211.50 845.00,213.30 860.00,215.30 875.00,217.30 890.00,219.50 898.00,220.50 900.50,220.70 901.50,200.00 902.50,160.00 903.30,135.00 904.50,132.20 910.00,129.80 918.00,126.50 925.00,124.40 932.50,123.60 945.00,122.50 957.50,122.00 970.00,121.80 982.50,121.60 990.00,122.00 995.00,122.90 1000.00,124.30 1006.00,126.50" fill="none" stroke="#dc1418" stroke-width="2.1" stroke-linejoin="round" />
<line x1="798.30" y1="232.00" x2="832.50" y2="239.40" stroke="#000" stroke-width="2.2" />
<polyline points="810.00,228.30 798.30,232.00 807.50,240.60" fill="none" stroke="#000" stroke-width="2.2" stroke-linejoin="round" stroke-linecap="round"/>
<line x1="896.70" y1="228.90" x2="931.70" y2="235.60" stroke="#000" stroke-width="2.2" />
<polyline points="908.40,224.80 896.70,228.90 906.40,237.00" fill="none" stroke="#000" stroke-width="2.2" stroke-linejoin="round" stroke-linecap="round"/>
<text x="843.34" y="245.84" font-family="'Liberation Sans', Arial, sans-serif" font-size="15.77" font-weight="bold" fill="#000" textLength="22.18" lengthAdjust="spacingAndGlyphs" >TG</text>
<text x="942.85" y="247.04" font-family="'Liberation Sans', Arial, sans-serif" font-size="15.77" font-weight="bold" fill="#000" textLength="17.66" lengthAdjust="spacingAndGlyphs" >Ca</text>
<text x="962.30" y="241.20" font-family="'Liberation Sans', Arial, sans-serif" font-size="11.00" font-weight="bold" fill="#000" textLength="12.95" lengthAdjust="spacingAndGlyphs" >2+</text>
<text x="679.36" y="371.20" font-family="'Liberation Sans', Arial, sans-serif" font-size="34.49" font-weight="bold" fill="#000" textLength="27.13" lengthAdjust="spacingAndGlyphs" >D</text>
<rect x="774.30" y="517.15" width="62.50" height="62.95" fill="#fff" stroke="#000" stroke-width="2"/>
<rect x="868.60" y="531.94" width="62.90" height="48.16" fill="#fff" stroke="#b4b4b4" stroke-width="2"/>
<line x1="758.20" y1="441.90" x2="758.20" y2="580.70" stroke="#000" stroke-width="1.4" />
<line x1="757.60" y1="580.10" x2="948.80" y2="580.10" stroke="#000" stroke-width="1.4" />
<line x1="755.20" y1="580.10" x2="758.20" y2="580.10" stroke="#000" stroke-width="1.4" />
<line x1="755.20" y1="545.70" x2="758.20" y2="545.70" stroke="#000" stroke-width="1.4" />
<line x1="755.20" y1="511.30" x2="758.20" y2="511.30" stroke="#000" stroke-width="1.4" />
<line x1="755.20" y1="476.90" x2="758.20" y2="476.90" stroke="#000" stroke-width="1.4" />
<line x1="755.20" y1="442.50" x2="758.20" y2="442.50" stroke="#000" stroke-width="1.4" />
<line x1="805.30" y1="580.10" x2="805.30" y2="584.60" stroke="#000" stroke-width="1.4" />
<line x1="899.40" y1="580.10" x2="899.40" y2="584.60" stroke="#000" stroke-width="1.4" />
<text x="738.74" y="585.25" font-family="'Liberation Sans', Arial, sans-serif" font-size="14.93" font-weight="bold" fill="#000" textLength="9.13" lengthAdjust="spacingAndGlyphs" >0</text>
<text x="738.31" y="552.20" font-family="'Liberation Sans', Arial, sans-serif" font-size="15.36" font-weight="bold" fill="#000" textLength="9.40" lengthAdjust="spacingAndGlyphs" >1</text>
<text x="738.72" y="517.80" font-family="'Liberation Sans', Arial, sans-serif" font-size="15.14" font-weight="bold" fill="#000" textLength="9.26" lengthAdjust="spacingAndGlyphs" >2</text>
<text x="738.82" y="483.25" font-family="'Liberation Sans', Arial, sans-serif" font-size="14.93" font-weight="bold" fill="#000" textLength="9.13" lengthAdjust="spacingAndGlyphs" >3</text>
<text x="738.53" y="449.00" font-family="'Liberation Sans', Arial, sans-serif" font-size="15.36" font-weight="bold" fill="#000" textLength="9.40" lengthAdjust="spacingAndGlyphs" >4</text>
<circle cx="805.60" cy="478.90" r="2.8" fill="#000"/>
<circle cx="798.10" cy="492.20" r="2.8" fill="#000"/>
<circle cx="805.60" cy="493.40" r="2.8" fill="#000"/>
<circle cx="813.10" cy="491.80" r="2.8" fill="#000"/>
<circle cx="809.10" cy="502.00" r="2.8" fill="#000"/>
<circle cx="802.10" cy="508.60" r="2.8" fill="#000"/>
<circle cx="791.10" cy="514.50" r="2.8" fill="#000"/>
<circle cx="820.80" cy="514.50" r="2.8" fill="#000"/>
<circle cx="778.00" cy="520.30" r="2.8" fill="#000"/>
<circle cx="784.60" cy="519.60" r="2.8" fill="#000"/>
<circle cx="798.10" cy="519.10" r="2.8" fill="#000"/>
<circle cx="813.10" cy="518.00" r="2.8" fill="#000"/>
<circle cx="826.70" cy="519.10" r="2.8" fill="#000"/>
<circle cx="833.20" cy="520.30" r="2.8" fill="#000"/>
<circle cx="792.00" cy="523.80" r="2.8" fill="#000"/>
<circle cx="798.60" cy="526.20" r="2.8" fill="#000"/>
<circle cx="805.60" cy="523.40" r="2.8" fill="#000"/>
<circle cx="813.10" cy="526.20" r="2.8" fill="#000"/>
<circle cx="819.70" cy="524.50" r="2.8" fill="#000"/>
<circle cx="790.40" cy="527.30" r="2.8" fill="#000"/>
<circle cx="799.80" cy="529.70" r="2.8" fill="#000"/>
<circle cx="805.60" cy="527.30" r="2.8" fill="#000"/>
<circle cx="811.50" cy="530.40" r="2.8" fill="#000"/>
<circle cx="819.70" cy="527.30" r="2.8" fill="#000"/>
<circle cx="805.60" cy="536.70" r="2.8" fill="#000"/>
<circle cx="805.60" cy="548.40" r="2.8" fill="#000"/>
<circle cx="797.00" cy="521.00" r="2.8" fill="#000"/>
<circle cx="815.00" cy="522.00" r="2.8" fill="#000"/>
<line x1="805.60" y1="502.00" x2="805.60" y2="533.20" stroke="#000" stroke-width="1.8" />
<line x1="790.40" y1="502.00" x2="821.30" y2="502.00" stroke="#000" stroke-width="1.8" />
<line x1="790.40" y1="533.20" x2="821.30" y2="533.20" stroke="#000" stroke-width="1.8" />
<rect x="897.20" y="503.10" width="5.2" height="5.2" fill="#000"/>
<rect x="878.50" y="511.00" width="5.2" height="5.2" fill="#000"/>
<rect x="886.00" y="513.50" width="5.2" height="5.2" fill="#000"/>
<rect x="893.50" y="514.80" width="5.2" height="5.2" fill="#000"/>
<rect x="901.00" y="516.00" width="5.2" height="5.2" fill="#000"/>
<rect x="908.50" y="514.30" width="5.2" height="5.2" fill="#000"/>
<rect x="915.90" y="511.80" width="5.2" height="5.2" fill="#000"/>
<rect x="874.20" y="518.50" width="5.2" height="5.2" fill="#000"/>
<rect x="882.20" y="522.30" width="5.2" height="5.2" fill="#000"/>
<rect x="889.70" y="524.80" width="5.2" height="5.2" fill="#000"/>
<rect x="897.20" y="525.50" width="5.2" height="5.2" fill="#000"/>
<rect x="904.70" y="524.80" width="5.2" height="5.2" fill="#000"/>
<rect x="912.20" y="523.50" width="5.2" height="5.2" fill="#000"/>
<rect x="919.70" y="521.80" width="5.2" height="5.2" fill="#000"/>
<rect x="867.30" y="527.30" width="5.2" height="5.2" fill="#000"/>
<rect x="874.70" y="528.50" width="5.2" height="5.2" fill="#000"/>
<rect x="882.20" y="529.80" width="5.2" height="5.2" fill="#000"/>
<rect x="889.70" y="531.00" width="5.2" height="5.2" fill="#000"/>
<rect x="897.20" y="531.80" width="5.2" height="5.2" fill="#000"/>
<rect x="904.70" y="531.00" width="5.2" height="5.2" fill="#000"/>
<rect x="912.20" y="529.80" width="5.2" height="5.2" fill="#000"/>
<rect x="919.70" y="528.50" width="5.2" height="5.2" fill="#000"/>
<rect x="927.20" y="527.30" width="5.2" height="5.2" fill="#000"/>
<rect x="870.90" y="528.90" width="5.2" height="5.2" fill="#000"/>
<rect x="878.40" y="530.40" width="5.2" height="5.2" fill="#000"/>
<rect x="885.90" y="531.90" width="5.2" height="5.2" fill="#000"/>
<rect x="893.40" y="532.90" width="5.2" height="5.2" fill="#000"/>
<rect x="900.90" y="532.90" width="5.2" height="5.2" fill="#000"/>
<rect x="908.40" y="531.90" width="5.2" height="5.2" fill="#000"/>
<rect x="915.90" y="530.40" width="5.2" height="5.2" fill="#000"/>
<rect x="923.40" y="528.90" width="5.2" height="5.2" fill="#000"/>
<rect x="868.50" y="537.30" width="5.2" height="5.2" fill="#000"/>
<rect x="876.00" y="539.80" width="5.2" height="5.2" fill="#000"/>
<rect x="883.50" y="541.80" width="5.2" height="5.2" fill="#000"/>
<rect x="891.00" y="543.00" width="5.2" height="5.2" fill="#000"/>
<rect x="898.50" y="543.50" width="5.2" height="5.2" fill="#000"/>
<rect x="906.00" y="542.80" width="5.2" height="5.2" fill="#000"/>
<rect x="913.50" y="541.00" width="5.2" height="5.2" fill="#000"/>
<rect x="920.90" y="539.30" width="5.2" height="5.2" fill="#000"/>
<rect x="927.20" y="538.00" width="5.2" height="5.2" fill="#000"/>
<rect x="872.40" y="538.90" width="5.2" height="5.2" fill="#000"/>
<rect x="879.90" y="540.90" width="5.2" height="5.2" fill="#000"/>
<rect x="887.40" y="542.40" width="5.2" height="5.2" fill="#000"/>
<rect x="894.90" y="543.40" width="5.2" height="5.2" fill="#000"/>
<rect x="902.40" y="543.20" width="5.2" height="5.2" fill="#000"/>
<rect x="909.90" y="542.00" width="5.2" height="5.2" fill="#000"/>
<rect x="917.40" y="540.20" width="5.2" height="5.2" fill="#000"/>
<rect x="924.40" y="538.40" width="5.2" height="5.2" fill="#000"/>
<rect x="887.20" y="545.80" width="5.2" height="5.2" fill="#000"/>
<rect x="894.70" y="547.00" width="5.2" height="5.2" fill="#000"/>
<rect x="902.20" y="546.50" width="5.2" height="5.2" fill="#000"/>
<rect x="909.70" y="545.30" width="5.2" height="5.2" fill="#000"/>
<polyline points="870.00,536.50 880.00,538.50 890.00,539.80 900.00,540.30 910.00,539.80 920.00,538.50 930.00,536.80" fill="none" stroke="#fff" stroke-width="1.3" stroke-linejoin="round" />
<text x="789.64" y="609.14" font-family="'Liberation Sans', Arial, sans-serif" font-size="16.46" font-weight="bold" fill="#000" textLength="28.47" lengthAdjust="spacingAndGlyphs" >Ctrl</text>
<text x="888.22" y="609.14" font-family="'Liberation Sans', Arial, sans-serif" font-size="16.20" font-weight="bold" fill="#000" textLength="22.66" lengthAdjust="spacingAndGlyphs" >KO</text>
<text x="876.37" y="478.19" font-family="'DejaVu Sans', sans-serif" font-size="16.74" font-weight="normal" fill="#000" textLength="41.86" lengthAdjust="spacingAndGlyphs" stroke="#000" stroke-width="0.4">****</text>
<text x="778.10" y="400.42" font-family="'Liberation Sans', Arial, sans-serif" font-size="18.45" font-weight="bold" fill="#000" textLength="68.77" lengthAdjust="spacingAndGlyphs" >Store-Ca</text>
<text x="847.01" y="394.30" font-family="'Liberation Sans', Arial, sans-serif" font-size="11.00" font-weight="bold" fill="#000" textLength="12.85" lengthAdjust="spacingAndGlyphs" >2+</text>
<text x="859.92" y="400.44" font-family="'Liberation Sans', Arial, sans-serif" font-size="15.92" font-weight="bold" fill="#000" textLength="57.41" lengthAdjust="spacingAndGlyphs" >release</text>
<text transform="translate(728.10,597.39) rotate(-90)" x="0" y="0" font-family="'Liberation Sans', Arial, sans-serif" font-size="18.34" font-weight="bold" fill="#000" textLength="210.60" lengthAdjust="spacingAndGlyphs">Peak of Flu-8(relative fold)</text>
<rect x="1025.80" y="504.43" width="62.40" height="75.67" fill="#fff" stroke="#000" stroke-width="2"/>
<rect x="1119.80" y="531.01" width="62.50" height="49.09" fill="#fff" stroke="#b4b4b4" stroke-width="2"/>
<line x1="1009.80" y1="443.15" x2="1009.80" y2="580.70" stroke="#000" stroke-width="1.4" />
<line x1="1009.20" y1="580.10" x2="1199.40" y2="580.10" stroke="#000" stroke-width="1.4" />
<line x1="1006.80" y1="580.10" x2="1009.80" y2="580.10" stroke="#000" stroke-width="1.4" />
<line x1="1006.80" y1="552.83" x2="1009.80" y2="552.83" stroke="#000" stroke-width="1.4" />
<line x1="1006.80" y1="525.56" x2="1009.80" y2="525.56" stroke="#000" stroke-width="1.4" />
<line x1="1006.80" y1="498.29" x2="1009.80" y2="498.29" stroke="#000" stroke-width="1.4" />
<line x1="1006.80" y1="471.02" x2="1009.80" y2="471.02" stroke="#000" stroke-width="1.4" />
<line x1="1006.80" y1="443.75" x2="1009.80" y2="443.75" stroke="#000" stroke-width="1.4" />
<line x1="1057.20" y1="580.10" x2="1057.20" y2="584.60" stroke="#000" stroke-width="1.4" />
<line x1="1150.90" y1="580.10" x2="1150.90" y2="584.60" stroke="#000" stroke-width="1.4" />
<text x="988.34" y="585.25" font-family="'Liberation Sans', Arial, sans-serif" font-size="14.93" font-weight="bold" fill="#000" textLength="9.13" lengthAdjust="spacingAndGlyphs" >0</text>
<text x="988.32" y="559.33" font-family="'Liberation Sans', Arial, sans-serif" font-size="15.14" font-weight="bold" fill="#000" textLength="9.26" lengthAdjust="spacingAndGlyphs" >2</text>
<text x="988.13" y="532.06" font-family="'Liberation Sans', Arial, sans-serif" font-size="15.36" font-weight="bold" fill="#000" textLength="9.40" lengthAdjust="spacingAndGlyphs" >4</text>
<text x="988.34" y="504.64" font-family="'Liberation Sans', Arial, sans-serif" font-size="14.93" font-weight="bold" fill="#000" textLength="9.13" lengthAdjust="spacingAndGlyphs" >6</text>
<text x="988.34" y="477.37" font-family="'Liberation Sans', Arial, sans-serif" font-size="14.93" font-weight="bold" fill="#000" textLength="9.13" lengthAdjust="spacingAndGlyphs" >8</text>
<text x="983.62" y="450.10" font-family="'Liberation Sans', Arial, sans-serif" font-size="14.93" font-weight="bold" fill="#000" textLength="18.27" lengthAdjust="spacingAndGlyphs" >10</text>
<circle cx="1049.40" cy="457.00" r="2.8" fill="#000"/>
<circle cx="1064.40" cy="455.70" r="2.8" fill="#000"/>
<circle cx="1056.70" cy="462.50" r="2.8" fill="#000"/>
<circle cx="1056.70" cy="478.20" r="2.8" fill="#000"/>
<circle cx="1053.70" cy="488.70" r="2.8" fill="#000"/>
<circle cx="1064.90" cy="489.20" r="2.8" fill="#000"/>
<circle cx="1068.70" cy="491.20" r="2.8" fill="#000"/>
<circle cx="1046.20" cy="494.40" r="2.8" fill="#000"/>
<circle cx="1053.70" cy="496.90" r="2.8" fill="#000"/>
<circle cx="1061.20" cy="495.40" r="2.8" fill="#000"/>
<circle cx="1064.40" cy="500.70" r="2.8" fill="#000"/>
<circle cx="1046.20" cy="504.90" r="2.8" fill="#000"/>
<circle cx="1042.50" cy="510.40" r="2.8" fill="#000"/>
<circle cx="1050.40" cy="512.40" r="2.8" fill="#000"/>
<circle cx="1057.40" cy="509.40" r="2.8" fill="#000"/>
<circle cx="1064.90" cy="514.40" r="2.8" fill="#000"/>
<circle cx="1072.40" cy="511.10" r="2.8" fill="#000"/>
<circle cx="1057.40" cy="517.40" r="2.8" fill="#000"/>
<circle cx="1046.20" cy="524.40" r="2.8" fill="#000"/>
<circle cx="1054.40" cy="524.90" r="2.8" fill="#000"/>
<circle cx="1064.90" cy="525.40" r="2.8" fill="#000"/>
<circle cx="1072.40" cy="524.90" r="2.8" fill="#000"/>
<circle cx="1046.20" cy="533.60" r="2.8" fill="#000"/>
<circle cx="1061.20" cy="534.40" r="2.8" fill="#000"/>
<circle cx="1068.70" cy="532.90" r="2.8" fill="#000"/>
<circle cx="1053.70" cy="538.60" r="2.8" fill="#000"/>
<line x1="1057.40" y1="481.70" x2="1057.40" y2="528.60" stroke="#000" stroke-width="1.8" />
<line x1="1042.00" y1="481.70" x2="1073.00" y2="481.70" stroke="#000" stroke-width="1.8" />
<line x1="1042.00" y1="528.60" x2="1073.00" y2="528.60" stroke="#000" stroke-width="1.8" />
<line x1="1150.60" y1="517.40" x2="1150.60" y2="544.90" stroke="#000" stroke-width="1.8" />
<line x1="1134.80" y1="517.40" x2="1166.00" y2="517.40" stroke="#000" stroke-width="1.8" />
<line x1="1134.80" y1="544.90" x2="1166.00" y2="544.90" stroke="#000" stroke-width="1.8" />
<rect x="1148.40" y="495.30" width="5.2" height="5.2" fill="#000"/>
<rect x="1141.00" y="507.40" width="5.2" height="5.2" fill="#000"/>
<rect x="1148.40" y="509.30" width="5.2" height="5.2" fill="#000"/>
<rect x="1156.00" y="508.60" width="5.2" height="5.2" fill="#000"/>
<rect x="1119.80" y="513.50" width="5.2" height="5.2" fill="#000"/>
<rect x="1126.50" y="514.80" width="5.2" height="5.2" fill="#000"/>
<rect x="1133.50" y="516.80" width="5.2" height="5.2" fill="#000"/>
<rect x="1141.00" y="515.30" width="5.2" height="5.2" fill="#000"/>
<rect x="1148.40" y="514.30" width="5.2" height="5.2" fill="#000"/>
<rect x="1156.00" y="515.30" width="5.2" height="5.2" fill="#000"/>
<rect x="1162.20" y="517.30" width="5.2" height="5.2" fill="#000"/>
<rect x="1169.70" y="515.30" width="5.2" height="5.2" fill="#000"/>
<rect x="1176.70" y="514.30" width="5.2" height="5.2" fill="#000"/>
<rect x="1126.00" y="523.50" width="5.2" height="5.2" fill="#000"/>
<rect x="1133.50" y="524.80" width="5.2" height="5.2" fill="#000"/>
<rect x="1141.00" y="521.80" width="5.2" height="5.2" fill="#000"/>
<rect x="1148.40" y="521.00" width="5.2" height="5.2" fill="#000"/>
<rect x="1156.00" y="520.30" width="5.2" height="5.2" fill="#000"/>
<rect x="1163.40" y="523.50" width="5.2" height="5.2" fill="#000"/>
<rect x="1170.90" y="524.30" width="5.2" height="5.2" fill="#000"/>
<rect x="1119.80" y="533.50" width="5.2" height="5.2" fill="#000"/>
<rect x="1126.50" y="534.80" width="5.2" height="5.2" fill="#000"/>
<rect x="1133.50" y="536.00" width="5.2" height="5.2" fill="#000"/>
<rect x="1141.00" y="537.30" width="5.2" height="5.2" fill="#000"/>
<rect x="1148.40" y="531.00" width="5.2" height="5.2" fill="#000"/>
<rect x="1156.00" y="529.80" width="5.2" height="5.2" fill="#000"/>
<rect x="1162.20" y="536.00" width="5.2" height="5.2" fill="#000"/>
<rect x="1169.70" y="534.30" width="5.2" height="5.2" fill="#000"/>
<rect x="1176.70" y="532.80" width="5.2" height="5.2" fill="#000"/>
<rect x="1126.00" y="544.80" width="5.2" height="5.2" fill="#000"/>
<rect x="1133.50" y="549.20" width="5.2" height="5.2" fill="#000"/>
<rect x="1141.00" y="550.20" width="5.2" height="5.2" fill="#000"/>
<rect x="1148.40" y="551.70" width="5.2" height="5.2" fill="#000"/>
<rect x="1156.00" y="551.00" width="5.2" height="5.2" fill="#000"/>
<rect x="1163.40" y="549.20" width="5.2" height="5.2" fill="#000"/>
<rect x="1170.90" y="546.00" width="5.2" height="5.2" fill="#000"/>
<text x="1041.12" y="608.13" font-family="'Liberation Sans', Arial, sans-serif" font-size="16.60" font-weight="bold" fill="#000" textLength="29.22" lengthAdjust="spacingAndGlyphs" >Ctrl</text>
<text x="1142.33" y="607.64" font-family="'Liberation Sans', Arial, sans-serif" font-size="15.77" font-weight="bold" fill="#000" textLength="22.45" lengthAdjust="spacingAndGlyphs" >KO</text>
<text x="1128.37" y="476.73" font-family="'DejaVu Sans', sans-serif" font-size="17.61" font-weight="normal" fill="#000" textLength="42.06" lengthAdjust="spacingAndGlyphs" stroke="#000" stroke-width="0.4">****</text>
<text x="1082.07" y="399.32" font-family="'Liberation Sans', Arial, sans-serif" font-size="17.61" font-weight="bold" fill="#000" textLength="40.49" lengthAdjust="spacingAndGlyphs" >SOCE</text>
<text transform="translate(977.30,596.69) rotate(-90)" x="0" y="0" font-family="'Liberation Sans', Arial, sans-serif" font-size="17.93" font-weight="bold" fill="#000" textLength="209.89" lengthAdjust="spacingAndGlyphs">Peak of Flu-8(relative fold)</text>
<text x="1152.03" y="31.80" font-family="'Liberation Sans', Arial, sans-serif" font-size="38.41" font-weight="bold" fill="#000" textLength="25.38" lengthAdjust="spacingAndGlyphs" >E</text>
<text x="1291.20" y="12.70" font-family="'Liberation Sans', Arial, sans-serif" font-size="14.57" font-weight="bold" fill="#000" textLength="19.90" lengthAdjust="spacingAndGlyphs">NC</text>
<text x="1324.53" y="12.70" font-family="'Liberation Sans', Arial, sans-serif" font-size="14.07" font-weight="bold" fill="#000" textLength="51.70" lengthAdjust="spacingAndGlyphs">shTtyh1</text>
<clipPath id="cl4"><rect x="1266.6" y="19.3" width="108.0" height="43.900000000000006"/></clipPath>
<g clip-path="url(#cl4)">
<rect x="1266.60" y="19.30" width="108.00" height="43.90" fill="#f1f1f1" stroke="none" stroke-width="0" />
<path d="M1284,43.5 Q1284,39.2 1290,38.8 Q1305,38 1315,37.3 Q1323,37.3 1323,42.5 Q1323,47.8 1315,47.9 L1290,48.2 Q1284,48.1 1284,43.5 Z" fill="#000" filter="url(#b1)"/>
<rect x="1332.30" y="37.80" width="32.10" height="7.30" rx="3.60" fill="#000" filter="url(#b1)"/>
</g>
<rect x="1266.60" y="19.30" width="108.00" height="43.90" fill="none" stroke="#111" stroke-width="1.6"/>
<clipPath id="cl5"><rect x="1266.6" y="84.3" width="108.0" height="39.0"/></clipPath>
<g clip-path="url(#cl5)">
<rect x="1266.60" y="84.30" width="108.00" height="39.00" fill="#f3f3f3" stroke="none" stroke-width="0" />
<rect x="1290.00" y="80.00" width="22.00" height="20.00" rx="4.00" fill="#e2e2e2" filter="url(#b3)"/>
<path d="M1283,104.5 Q1283.5,98.5 1290,97.6 L1313,97.4 Q1319.5,98 1319.5,103.5 Q1319.5,107.8 1316,107.6 Q1301,105.8 1288,107.2 Q1283,108.5 1283,104.5 Z" fill="#000" filter="url(#b1)"/>
<path d="M1330.5,104 Q1331,98.8 1337,98.4 L1358,98.8 Q1365,99.5 1365,104.5 Q1365,108.2 1361,107.5 Q1348,105.3 1335,106.8 Q1330.5,107.8 1330.5,104 Z" fill="#0a0a0a" filter="url(#b1)"/>
</g>
<rect x="1266.60" y="84.30" width="108.00" height="39.00" fill="none" stroke="#111" stroke-width="1.6"/>
<clipPath id="cl6"><rect x="1266.6" y="146.2" width="108.0" height="41.20000000000002"/></clipPath>
<g clip-path="url(#cl6)">
<rect x="1266.6" y="146.2" width="108.0" height="41.20000000000002" fill="url(#gnf)"/>
<rect x="1274.00" y="150.00" width="44.00" height="40.00" rx="4.00" fill="#c2c2c2" filter="url(#b3)"/>
<rect x="1326.00" y="160.00" width="42.00" height="30.00" rx="4.00" fill="#c4c4c4" filter="url(#b3)"/>
<rect x="1280.00" y="156.00" width="33.50" height="10.00" rx="4.00" fill="#8a8a8a" filter="url(#b3)"/>
<rect x="1280.70" y="161.50" width="32.60" height="8.50" rx="4.00" fill="#151515" filter="url(#b15)"/>
<rect x="1290.00" y="162.50" width="23.00" height="6.50" rx="3.00" fill="#000" filter="url(#b1)"/>
<rect x="1329.60" y="163.60" width="34.60" height="8.00" rx="3.50" fill="#454545" filter="url(#b15)"/>
<rect x="1267.8" y="147.4" width="105.6" height="38.8" fill="none" stroke="#f4f4f4" stroke-width="0.8"/>
</g>
<rect x="1266.60" y="146.20" width="108.00" height="41.20" fill="none" stroke="#111" stroke-width="1.6"/>
<clipPath id="cl7"><rect x="1266.6" y="210.6" width="108.0" height="39.900000000000006"/></clipPath>
<g clip-path="url(#cl7)">
<rect x="1266.60" y="210.60" width="108.00" height="39.90" fill="#f0f0f0" stroke="none" stroke-width="0" />
<rect x="1278.00" y="228.00" width="44.00" height="5.00" rx="2.50" fill="#e0e0e0" filter="url(#b2)"/>
<rect x="1327.00" y="222.20" width="43.70" height="15.40" rx="5.00" fill="#0a0a0a" filter="url(#b1)"/>
<path d="M1334,230.6 Q1345,229.2 1356,229.8 Q1364,230.3 1366,231 Q1356,231.3 1345,231.2 Q1338,231.3 1334,230.6 Z" fill="#9a9a9a" filter="url(#b1)"/>
</g>
<rect x="1266.60" y="210.60" width="108.00" height="39.90" fill="none" stroke="#111" stroke-width="1.6"/>
<clipPath id="cl8"><rect x="1266.6" y="273.0" width="108.0" height="42.5"/></clipPath>
<g clip-path="url(#cl8)">
<rect x="1266.6" y="273.0" width="108.0" height="42.5" fill="url(#gp21)"/>
<rect x="1272.00" y="276.00" width="52.00" height="39.00" rx="4.00" fill="#c6c6c6" filter="url(#b3)"/>
<rect x="1327.00" y="276.00" width="43.00" height="39.00" rx="4.00" fill="#cbcbcb" filter="url(#b3)"/>
<path d="M1279.8,297 Q1279.8,291.5 1286,290.6 Q1293,289.8 1298,287.2 Q1303,284.6 1308,286.2 Q1313,288.4 1318,289.6 Q1321.8,291.5 1321.6,296.5 Q1321.4,302.2 1314,302.4 L1287,302.6 Q1279.8,302.4 1279.8,297 Z" fill="#000" filter="url(#b1)"/>
<path d="M1331.5,295.8 Q1331.5,291.6 1336,291.5 L1353,292 Q1360,292.6 1361,295.8 Q1360,299 1353,299.6 L1336,300.2 Q1331.5,300.2 1331.5,295.8 Z" fill="#000" filter="url(#b1)"/>
<ellipse cx="1362.00" cy="296.00" rx="5.50" ry="2.60" fill="#7a7a7a" filter="url(#b15)"/>
</g>
<rect x="1266.60" y="273.00" width="108.00" height="42.50" fill="none" stroke="#111" stroke-width="1.6"/>
<clipPath id="cl9"><rect x="1266.6" y="335.9" width="108.0" height="47.400000000000034"/></clipPath>
<g clip-path="url(#cl9)">
<rect x="1266.60" y="335.90" width="108.00" height="47.40" fill="#a9a9a9" stroke="none" stroke-width="0" />
<rect x="1270.00" y="336.00" width="46.00" height="48.00" rx="4.00" fill="#a0a0a0" filter="url(#b3)"/>
<rect x="1314.00" y="334.00" width="26.00" height="13.00" rx="4.00" fill="#cacaca" filter="url(#b3)"/>
<rect x="1330.00" y="334.00" width="34.00" height="8.00" rx="4.00" fill="#bababa" filter="url(#b3)"/>
<rect x="1274.00" y="368.00" width="42.00" height="16.00" rx="3.00" fill="#939393" filter="url(#b3)"/>
<rect x="1277.30" y="354.40" width="35.50" height="12.60" rx="5.50" fill="#000" filter="url(#b1)"/>
<rect x="1330.00" y="357.20" width="34.20" height="8.00" rx="3.50" fill="#555" filter="url(#b15)"/>
</g>
<rect x="1266.60" y="335.90" width="108.00" height="47.40" fill="none" stroke="#111" stroke-width="1.6"/>
<clipPath id="cl10"><rect x="1266.6" y="403.8" width="108.0" height="49.80000000000001"/></clipPath>
<g clip-path="url(#cl10)">
<rect x="1266.6" y="403.8" width="108.0" height="49.80000000000001" fill="url(#gba)"/>
<rect x="1272.00" y="428.00" width="44.00" height="24.00" rx="4.00" fill="#dddddd" filter="url(#b3)"/>
<rect x="1326.00" y="428.00" width="44.00" height="24.00" rx="4.00" fill="#d9d9d9" filter="url(#b3)"/>
<rect x="1274.00" y="421.20" width="39.00" height="12.40" rx="5.50" fill="#3a3a3a" filter="url(#b15)"/>
<rect x="1329.00" y="419.60" width="37.40" height="12.00" rx="5.50" fill="#101010" filter="url(#b15)"/>
<rect x="1333.00" y="421.00" width="30.00" height="9.00" rx="4.00" fill="#000" filter="url(#b1)"/>
<ellipse cx="1349.00" cy="421.50" rx="1.50" ry="1.00" fill="#ffffff" filter="url(#b1)"/>
</g>
<rect x="1266.60" y="403.80" width="108.00" height="49.80" fill="none" stroke="#111" stroke-width="1.6"/>
<text x="1189.52" y="48.30" font-family="'Liberation Sans', Arial, sans-serif" font-size="16.71" font-weight="bold" fill="#000" textLength="48.83" lengthAdjust="spacingAndGlyphs">CALM</text>
<text x="1182.83" y="110.00" font-family="'Liberation Sans', Arial, sans-serif" font-size="17.43" font-weight="bold" fill="#000" textLength="47.40" lengthAdjust="spacingAndGlyphs">CaMK</text>
<text x="1230.18" y="110.00" font-family="'Liberation Serif', serif" font-size="18.63" font-weight="bold" fill="#000" textLength="13.70" lengthAdjust="spacingAndGlyphs" >II</text>
<text x="1183.93" y="173.70" font-family="'Liberation Sans', Arial, sans-serif" font-size="17.86" font-weight="bold" fill="#000" textLength="58.95" lengthAdjust="spacingAndGlyphs">NFATc3</text>
<text x="1178.85" y="238.50" font-family="'Liberation Sans', Arial, sans-serif" font-size="17.24" font-weight="bold" fill="#000" textLength="73.89" lengthAdjust="spacingAndGlyphs">Cyclin D1</text>
<text x="1199.27" y="299.80" font-family="'Liberation Sans', Arial, sans-serif" font-size="16.29" font-weight="bold" fill="#000" textLength="27.38" lengthAdjust="spacingAndGlyphs">p21</text>
<text x="1192.84" y="362.90" font-family="'Liberation Sans', Arial, sans-serif" font-size="17.52" font-weight="bold" fill="#000" textLength="42.19" lengthAdjust="spacingAndGlyphs">Ttyh1</text>
<text x="1184.23" y="429.20" font-family="'Liberation Sans', Arial, sans-serif" font-size="15.45" font-weight="bold" fill="#000" textLength="57.55" lengthAdjust="spacingAndGlyphs">β-Actin</text>
<text x="1388.01" y="47.60" font-family="'Liberation Sans', Arial, sans-serif" font-size="15.86" font-weight="bold" fill="#000" textLength="57.86" lengthAdjust="spacingAndGlyphs">--16 kDa</text>
<text x="1388.01" y="108.80" font-family="'Liberation Sans', Arial, sans-serif" font-size="15.86" font-weight="bold" fill="#000" textLength="57.86" lengthAdjust="spacingAndGlyphs">--54 kDa</text>
<text x="1387.35" y="172.40" font-family="'Liberation Sans', Arial, sans-serif" font-size="15.72" font-weight="bold" fill="#000" textLength="61.44" lengthAdjust="spacingAndGlyphs">--130 kDa</text>
<text x="1388.01" y="234.00" font-family="'Liberation Sans', Arial, sans-serif" font-size="15.72" font-weight="bold" fill="#000" textLength="57.86" lengthAdjust="spacingAndGlyphs">--34 kDa</text>
<text x="1388.17" y="302.20" font-family="'Liberation Sans', Arial, sans-serif" font-size="15.17" font-weight="bold" fill="#000" textLength="56.70" lengthAdjust="spacingAndGlyphs">--21 kDa</text>
<text x="1388.17" y="367.20" font-family="'Liberation Sans', Arial, sans-serif" font-size="15.17" font-weight="bold" fill="#000" textLength="56.70" lengthAdjust="spacingAndGlyphs">--55 kDa</text>
<text x="1388.17" y="432.80" font-family="'Liberation Sans', Arial, sans-serif" font-size="15.03" font-weight="bold" fill="#000" textLength="56.70" lengthAdjust="spacingAndGlyphs">--43 kDa</text>
<rect x="1521.20" y="80.70" width="24.10" height="87.60" fill="#000" stroke="none" stroke-width="0" />
<line x1="1570.55" y1="134.14" x2="1570.55" y2="117.05" stroke="#666" stroke-width="1.4" />
<line x1="1564.45" y1="117.05" x2="1576.65" y2="117.05" stroke="#666" stroke-width="1.4" />
<rect x="1559.20" y="135.04" width="22.70" height="33.26" fill="#9f9ea3" stroke="#000" stroke-width="1.8"/>
<line x1="1508.30" y1="36.10" x2="1508.30" y2="169.10" stroke="#000" stroke-width="1.7" />
<line x1="1507.50" y1="168.30" x2="1595.90" y2="168.30" stroke="#000" stroke-width="1.7" />
<line x1="1502.70" y1="168.30" x2="1508.30" y2="168.30" stroke="#000" stroke-width="1.7" />
<line x1="1502.70" y1="124.50" x2="1508.30" y2="124.50" stroke="#000" stroke-width="1.7" />
<line x1="1502.70" y1="80.70" x2="1508.30" y2="80.70" stroke="#000" stroke-width="1.7" />
<line x1="1502.70" y1="36.90" x2="1508.30" y2="36.90" stroke="#000" stroke-width="1.7" />
<line x1="1533.25" y1="168.30" x2="1533.25" y2="173.80" stroke="#000" stroke-width="1.7" />
<line x1="1570.55" y1="168.30" x2="1570.55" y2="173.80" stroke="#000" stroke-width="1.7" />
<polyline points="1531.70,59.50 1531.70,53.00 1570.30,53.00 1570.30,90.10" fill="none" stroke="#000" stroke-width="2.0" stroke-linejoin="round" stroke-linejoin="miter"/>
<text x="1487.88" y="171.65" font-family="'Liberation Sans', Arial, sans-serif" font-size="9.72" font-weight="bold" fill="#000" textLength="13.51" lengthAdjust="spacingAndGlyphs" >0.0</text>
<text x="1487.73" y="127.85" font-family="'Liberation Sans', Arial, sans-serif" font-size="9.72" font-weight="bold" fill="#000" textLength="13.51" lengthAdjust="spacingAndGlyphs" >0.5</text>
<text x="1487.88" y="84.05" font-family="'Liberation Sans', Arial, sans-serif" font-size="9.72" font-weight="bold" fill="#000" textLength="13.51" lengthAdjust="spacingAndGlyphs" >1.0</text>
<text x="1487.54" y="40.25" font-family="'Liberation Sans', Arial, sans-serif" font-size="9.86" font-weight="bold" fill="#000" textLength="13.70" lengthAdjust="spacingAndGlyphs" >1.5</text>
<text x="1533.27" y="21.50" font-family="'Liberation Sans', Arial, sans-serif" font-size="13.00" font-weight="bold" fill="#000" textLength="37.92" lengthAdjust="spacingAndGlyphs">CALM</text>
<text transform="translate(1480.88,136.19) rotate(-90)" x="0" y="0" font-family="'Liberation Sans', Arial, sans-serif" font-size="11.70" font-weight="bold" fill="#000" textLength="67.21" lengthAdjust="spacingAndGlyphs">Relative level</text>
<text x="1540.33" y="52.02" font-family="'DejaVu Sans', sans-serif" font-size="14.62" font-weight="bold" fill="#000" textLength="21.40" lengthAdjust="spacingAndGlyphs" >***</text>
<text x="1525.55" y="184.30" font-family="'Liberation Sans', Arial, sans-serif" font-size="9.14" font-weight="bold" fill="#000" textLength="14.44" lengthAdjust="spacingAndGlyphs">NC</text>
<text x="1551.16" y="184.30" font-family="'Liberation Sans', Arial, sans-serif" font-size="8.83" font-weight="bold" fill="#000" textLength="37.68" lengthAdjust="spacingAndGlyphs">shTtyh1</text>
<rect x="1687.90" y="77.12" width="25.20" height="90.63" fill="#000" stroke="none" stroke-width="0" />
<line x1="1739.65" y1="133.31" x2="1739.65" y2="125.24" stroke="#666" stroke-width="1.4" />
<line x1="1733.55" y1="125.24" x2="1745.75" y2="125.24" stroke="#666" stroke-width="1.4" />
<rect x="1728.10" y="134.21" width="23.10" height="33.54" fill="#9f9ea3" stroke="#000" stroke-width="1.8"/>
<line x1="1674.90" y1="31.00" x2="1674.90" y2="168.55" stroke="#000" stroke-width="1.7" />
<line x1="1674.10" y1="167.75" x2="1766.00" y2="167.75" stroke="#000" stroke-width="1.7" />
<line x1="1669.30" y1="167.75" x2="1674.90" y2="167.75" stroke="#000" stroke-width="1.7" />
<line x1="1669.30" y1="122.43" x2="1674.90" y2="122.43" stroke="#000" stroke-width="1.7" />
<line x1="1669.30" y1="77.12" x2="1674.90" y2="77.12" stroke="#000" stroke-width="1.7" />
<line x1="1669.30" y1="31.80" x2="1674.90" y2="31.80" stroke="#000" stroke-width="1.7" />
<line x1="1700.50" y1="167.75" x2="1700.50" y2="173.25" stroke="#000" stroke-width="1.7" />
<line x1="1739.65" y1="167.75" x2="1739.65" y2="173.25" stroke="#000" stroke-width="1.7" />
<polyline points="1699.40,54.50 1699.40,48.10 1739.20,48.10 1739.20,85.80" fill="none" stroke="#000" stroke-width="2.0" stroke-linejoin="round" stroke-linejoin="miter"/>
<text x="1653.98" y="171.10" font-family="'Liberation Sans', Arial, sans-serif" font-size="9.72" font-weight="bold" fill="#000" textLength="13.51" lengthAdjust="spacingAndGlyphs" >0.0</text>
<text x="1653.83" y="125.79" font-family="'Liberation Sans', Arial, sans-serif" font-size="9.72" font-weight="bold" fill="#000" textLength="13.51" lengthAdjust="spacingAndGlyphs" >0.5</text>
<text x="1653.98" y="80.47" font-family="'Liberation Sans', Arial, sans-serif" font-size="9.72" font-weight="bold" fill="#000" textLength="13.51" lengthAdjust="spacingAndGlyphs" >1.0</text>
<text x="1653.64" y="35.15" font-family="'Liberation Sans', Arial, sans-serif" font-size="9.86" font-weight="bold" fill="#000" textLength="13.70" lengthAdjust="spacingAndGlyphs" >1.5</text>
<text x="1690.14" y="20.00" font-family="'Liberation Sans', Arial, sans-serif" font-size="13.86" font-weight="bold" fill="#000" textLength="39.45" lengthAdjust="spacingAndGlyphs">CaMK</text>
<text transform="translate(1646.88,134.23) rotate(-90)" x="0" y="0" font-family="'Liberation Sans', Arial, sans-serif" font-size="12.11" font-weight="bold" fill="#000" textLength="70.98" lengthAdjust="spacingAndGlyphs">Relative level</text>
<text x="1703.90" y="46.23" font-family="'DejaVu Sans', sans-serif" font-size="13.55" font-weight="bold" fill="#000" textLength="31.43" lengthAdjust="spacingAndGlyphs" >****</text>
<text x="1692.81" y="184.00" font-family="'Liberation Sans', Arial, sans-serif" font-size="9.57" font-weight="bold" fill="#000" textLength="15.30" lengthAdjust="spacingAndGlyphs">NC</text>
<text x="1719.55" y="184.00" font-family="'Liberation Sans', Arial, sans-serif" font-size="9.24" font-weight="bold" fill="#000" textLength="38.80" lengthAdjust="spacingAndGlyphs">shTtyh1</text>
<rect x="1520.80" y="286.98" width="24.20" height="86.77" fill="#000" stroke="none" stroke-width="0" />
<line x1="1570.35" y1="345.72" x2="1570.35" y2="332.80" stroke="#666" stroke-width="1.4" />
<line x1="1564.25" y1="332.80" x2="1576.45" y2="332.80" stroke="#666" stroke-width="1.4" />
<rect x="1559.20" y="346.62" width="22.30" height="27.13" fill="#9f9ea3" stroke="#000" stroke-width="1.8"/>
<line x1="1508.30" y1="242.80" x2="1508.30" y2="374.55" stroke="#000" stroke-width="1.7" />
<line x1="1507.50" y1="373.75" x2="1595.30" y2="373.75" stroke="#000" stroke-width="1.7" />
<line x1="1502.70" y1="373.75" x2="1508.30" y2="373.75" stroke="#000" stroke-width="1.7" />
<line x1="1502.70" y1="330.37" x2="1508.30" y2="330.37" stroke="#000" stroke-width="1.7" />
<line x1="1502.70" y1="286.98" x2="1508.30" y2="286.98" stroke="#000" stroke-width="1.7" />
<line x1="1502.70" y1="243.60" x2="1508.30" y2="243.60" stroke="#000" stroke-width="1.7" />
<line x1="1532.90" y1="373.75" x2="1532.90" y2="379.25" stroke="#000" stroke-width="1.7" />
<line x1="1570.35" y1="373.75" x2="1570.35" y2="379.25" stroke="#000" stroke-width="1.7" />
<polyline points="1531.50,265.00 1531.50,259.00 1570.00,259.00 1570.00,295.60" fill="none" stroke="#000" stroke-width="2.0" stroke-linejoin="round" stroke-linejoin="miter"/>
<text x="1487.88" y="377.10" font-family="'Liberation Sans', Arial, sans-serif" font-size="9.72" font-weight="bold" fill="#000" textLength="13.51" lengthAdjust="spacingAndGlyphs" >0.0</text>
<text x="1487.73" y="333.72" font-family="'Liberation Sans', Arial, sans-serif" font-size="9.72" font-weight="bold" fill="#000" textLength="13.51" lengthAdjust="spacingAndGlyphs" >0.5</text>
<text x="1487.88" y="290.34" font-family="'Liberation Sans', Arial, sans-serif" font-size="9.72" font-weight="bold" fill="#000" textLength="13.51" lengthAdjust="spacingAndGlyphs" >1.0</text>
<text x="1487.54" y="246.95" font-family="'Liberation Sans', Arial, sans-serif" font-size="9.86" font-weight="bold" fill="#000" textLength="13.70" lengthAdjust="spacingAndGlyphs" >1.5</text>
<text x="1528.77" y="227.30" font-family="'Liberation Sans', Arial, sans-serif" font-size="13.14" font-weight="bold" fill="#000" textLength="45.68" lengthAdjust="spacingAndGlyphs">NFATc3</text>
<text transform="translate(1481.18,342.20) rotate(-90)" x="0" y="0" font-family="'Liberation Sans', Arial, sans-serif" font-size="11.97" font-weight="bold" fill="#000" textLength="68.23" lengthAdjust="spacingAndGlyphs">Relative level</text>
<text x="1536.01" y="257.65" font-family="'DejaVu Sans', sans-serif" font-size="12.90" font-weight="bold" fill="#000" textLength="29.90" lengthAdjust="spacingAndGlyphs" >****</text>
<text x="1525.03" y="389.80" font-family="'Liberation Sans', Arial, sans-serif" font-size="9.29" font-weight="bold" fill="#000" textLength="14.98" lengthAdjust="spacingAndGlyphs">NC</text>
<text x="1550.66" y="389.80" font-family="'Liberation Sans', Arial, sans-serif" font-size="8.97" font-weight="bold" fill="#000" textLength="37.07" lengthAdjust="spacingAndGlyphs">shTtyh1</text>
<rect x="1687.10" y="364.98" width="24.70" height="8.77" fill="#000" stroke="none" stroke-width="0" />
<line x1="1737.30" y1="281.66" x2="1737.30" y2="265.18" stroke="#666" stroke-width="1.4" />
<line x1="1731.20" y1="265.18" x2="1743.40" y2="265.18" stroke="#666" stroke-width="1.4" />
<rect x="1726.20" y="282.56" width="22.20" height="91.19" fill="#9f9ea3" stroke="#000" stroke-width="1.8"/>
<line x1="1674.90" y1="241.40" x2="1674.90" y2="374.55" stroke="#000" stroke-width="1.7" />
<line x1="1674.10" y1="373.75" x2="1762.60" y2="373.75" stroke="#000" stroke-width="1.7" />
<line x1="1669.30" y1="373.75" x2="1674.90" y2="373.75" stroke="#000" stroke-width="1.7" />
<line x1="1669.30" y1="329.90" x2="1674.90" y2="329.90" stroke="#000" stroke-width="1.7" />
<line x1="1669.30" y1="286.05" x2="1674.90" y2="286.05" stroke="#000" stroke-width="1.7" />
<line x1="1669.30" y1="242.20" x2="1674.90" y2="242.20" stroke="#000" stroke-width="1.7" />
<line x1="1699.45" y1="373.75" x2="1699.45" y2="379.25" stroke="#000" stroke-width="1.7" />
<line x1="1737.30" y1="373.75" x2="1737.30" y2="379.25" stroke="#000" stroke-width="1.7" />
<polyline points="1699.70,267.20 1699.70,250.70 1737.00,250.70 1737.00,257.50" fill="none" stroke="#000" stroke-width="2.0" stroke-linejoin="round" stroke-linejoin="miter"/>
<text x="1662.10" y="377.10" font-family="'Liberation Sans', Arial, sans-serif" font-size="9.72" font-weight="bold" fill="#000" textLength="5.41" lengthAdjust="spacingAndGlyphs" >0</text>
<text x="1661.88" y="333.25" font-family="'Liberation Sans', Arial, sans-serif" font-size="9.86" font-weight="bold" fill="#000" textLength="5.48" lengthAdjust="spacingAndGlyphs" >5</text>
<text x="1656.70" y="289.40" font-family="'Liberation Sans', Arial, sans-serif" font-size="9.72" font-weight="bold" fill="#000" textLength="10.81" lengthAdjust="spacingAndGlyphs" >10</text>
<text x="1656.40" y="245.55" font-family="'Liberation Sans', Arial, sans-serif" font-size="9.86" font-weight="bold" fill="#000" textLength="10.96" lengthAdjust="spacingAndGlyphs" >15</text>
<text x="1689.60" y="226.20" font-family="'Liberation Sans', Arial, sans-serif" font-size="13.66" font-weight="bold" fill="#000" textLength="56.43" lengthAdjust="spacingAndGlyphs">Cyclin D1</text>
<text transform="translate(1650.28,342.20) rotate(-90)" x="0" y="0" font-family="'Liberation Sans', Arial, sans-serif" font-size="12.11" font-weight="bold" fill="#000" textLength="68.23" lengthAdjust="spacingAndGlyphs">Relative level</text>
<text x="1707.83" y="248.97" font-family="'DejaVu Sans', sans-serif" font-size="13.33" font-weight="bold" fill="#000" textLength="21.40" lengthAdjust="spacingAndGlyphs" >***</text>
<text x="1692.25" y="390.00" font-family="'Liberation Sans', Arial, sans-serif" font-size="8.71" font-weight="bold" fill="#000" textLength="14.44" lengthAdjust="spacingAndGlyphs">NC</text>
<text x="1717.86" y="390.00" font-family="'Liberation Sans', Arial, sans-serif" font-size="8.41" font-weight="bold" fill="#000" textLength="37.07" lengthAdjust="spacingAndGlyphs">shTtyh1</text>
<rect x="1520.00" y="499.60" width="23.90" height="84.80" fill="#000" stroke="none" stroke-width="0" />
<line x1="1568.80" y1="560.83" x2="1568.80" y2="548.95" stroke="#666" stroke-width="1.4" />
<line x1="1562.70" y1="548.95" x2="1574.90" y2="548.95" stroke="#666" stroke-width="1.4" />
<rect x="1558.00" y="561.73" width="21.60" height="22.67" fill="#9f9ea3" stroke="#000" stroke-width="1.8"/>
<line x1="1508.30" y1="456.40" x2="1508.30" y2="585.20" stroke="#000" stroke-width="1.7" />
<line x1="1507.50" y1="584.40" x2="1593.10" y2="584.40" stroke="#000" stroke-width="1.7" />
<line x1="1502.70" y1="584.40" x2="1508.30" y2="584.40" stroke="#000" stroke-width="1.7" />
<line x1="1502.70" y1="542.00" x2="1508.30" y2="542.00" stroke="#000" stroke-width="1.7" />
<line x1="1502.70" y1="499.60" x2="1508.30" y2="499.60" stroke="#000" stroke-width="1.7" />
<line x1="1502.70" y1="457.20" x2="1508.30" y2="457.20" stroke="#000" stroke-width="1.7" />
<line x1="1531.95" y1="584.40" x2="1531.95" y2="589.90" stroke="#000" stroke-width="1.7" />
<line x1="1568.80" y1="584.40" x2="1568.80" y2="589.90" stroke="#000" stroke-width="1.7" />
<polyline points="1530.70,478.00 1530.70,472.30 1568.10,472.30 1568.10,508.00" fill="none" stroke="#000" stroke-width="2.0" stroke-linejoin="round" stroke-linejoin="miter"/>
<text x="1487.88" y="587.75" font-family="'Liberation Sans', Arial, sans-serif" font-size="9.72" font-weight="bold" fill="#000" textLength="13.51" lengthAdjust="spacingAndGlyphs" >0.0</text>
<text x="1487.73" y="545.35" font-family="'Liberation Sans', Arial, sans-serif" font-size="9.72" font-weight="bold" fill="#000" textLength="13.51" lengthAdjust="spacingAndGlyphs" >0.5</text>
<text x="1487.88" y="502.95" font-family="'Liberation Sans', Arial, sans-serif" font-size="9.72" font-weight="bold" fill="#000" textLength="13.51" lengthAdjust="spacingAndGlyphs" >1.0</text>
<text x="1487.54" y="460.55" font-family="'Liberation Sans', Arial, sans-serif" font-size="9.86" font-weight="bold" fill="#000" textLength="13.70" lengthAdjust="spacingAndGlyphs" >1.5</text>
<text x="1534.93" y="428.20" font-family="'Liberation Sans', Arial, sans-serif" font-size="13.57" font-weight="bold" fill="#000" textLength="23.15" lengthAdjust="spacingAndGlyphs">p21</text>
<text transform="translate(1481.48,554.70) rotate(-90)" x="0" y="0" font-family="'Liberation Sans', Arial, sans-serif" font-size="11.97" font-weight="bold" fill="#000" textLength="68.43" lengthAdjust="spacingAndGlyphs">Relative level</text>
<text x="1535.52" y="470.31" font-family="'DejaVu Sans', sans-serif" font-size="12.04" font-weight="bold" fill="#000" textLength="28.88" lengthAdjust="spacingAndGlyphs" >****</text>
<text x="1524.42" y="600.40" font-family="'Liberation Sans', Arial, sans-serif" font-size="9.71" font-weight="bold" fill="#000" textLength="15.09" lengthAdjust="spacingAndGlyphs">NC</text>
<text x="1549.46" y="600.40" font-family="'Liberation Sans', Arial, sans-serif" font-size="9.38" font-weight="bold" fill="#000" textLength="37.07" lengthAdjust="spacingAndGlyphs">shTtyh1</text>
<rect x="1688.20" y="491.33" width="26.60" height="93.67" fill="#000" stroke="none" stroke-width="0" />
<line x1="1741.80" y1="551.75" x2="1741.80" y2="532.83" stroke="#666" stroke-width="1.4" />
<line x1="1735.70" y1="532.83" x2="1747.90" y2="532.83" stroke="#666" stroke-width="1.4" />
<rect x="1729.80" y="552.65" width="24.00" height="32.35" fill="#9f9ea3" stroke="#000" stroke-width="1.8"/>
<line x1="1675.40" y1="443.70" x2="1675.40" y2="585.80" stroke="#000" stroke-width="1.7" />
<line x1="1674.60" y1="585.00" x2="1768.80" y2="585.00" stroke="#000" stroke-width="1.7" />
<line x1="1669.80" y1="585.00" x2="1675.40" y2="585.00" stroke="#000" stroke-width="1.7" />
<line x1="1669.80" y1="538.17" x2="1675.40" y2="538.17" stroke="#000" stroke-width="1.7" />
<line x1="1669.80" y1="491.33" x2="1675.40" y2="491.33" stroke="#000" stroke-width="1.7" />
<line x1="1669.80" y1="444.50" x2="1675.40" y2="444.50" stroke="#000" stroke-width="1.7" />
<line x1="1701.50" y1="585.00" x2="1701.50" y2="590.50" stroke="#000" stroke-width="1.7" />
<line x1="1741.80" y1="585.00" x2="1741.80" y2="590.50" stroke="#000" stroke-width="1.7" />
<polyline points="1700.20,468.10 1700.20,461.40 1741.80,461.40 1741.80,500.80" fill="none" stroke="#000" stroke-width="2.0" stroke-linejoin="round" stroke-linejoin="miter"/>
<text x="1653.98" y="588.35" font-family="'Liberation Sans', Arial, sans-serif" font-size="9.72" font-weight="bold" fill="#000" textLength="13.51" lengthAdjust="spacingAndGlyphs" >0.0</text>
<text x="1653.83" y="541.52" font-family="'Liberation Sans', Arial, sans-serif" font-size="9.72" font-weight="bold" fill="#000" textLength="13.51" lengthAdjust="spacingAndGlyphs" >0.5</text>
<text x="1653.98" y="494.69" font-family="'Liberation Sans', Arial, sans-serif" font-size="9.72" font-weight="bold" fill="#000" textLength="13.51" lengthAdjust="spacingAndGlyphs" >1.0</text>
<text x="1653.64" y="447.85" font-family="'Liberation Sans', Arial, sans-serif" font-size="9.86" font-weight="bold" fill="#000" textLength="13.70" lengthAdjust="spacingAndGlyphs" >1.5</text>
<text x="1704.07" y="427.10" font-family="'Liberation Sans', Arial, sans-serif" font-size="13.10" font-weight="bold" fill="#000" textLength="34.68" lengthAdjust="spacingAndGlyphs">Ttyh1</text>
<text transform="translate(1645.87,551.25) rotate(-90)" x="0" y="0" font-family="'Liberation Sans', Arial, sans-serif" font-size="13.06" font-weight="bold" fill="#000" textLength="73.03" lengthAdjust="spacingAndGlyphs">Relative level</text>
<text x="1709.50" y="458.39" font-family="'DejaVu Sans', sans-serif" font-size="11.61" font-weight="bold" fill="#000" textLength="23.66" lengthAdjust="spacingAndGlyphs" >***</text>
<text x="1693.27" y="601.50" font-family="'Liberation Sans', Arial, sans-serif" font-size="9.71" font-weight="bold" fill="#000" textLength="16.26" lengthAdjust="spacingAndGlyphs">NC</text>
<text x="1721.24" y="601.50" font-family="'Liberation Sans', Arial, sans-serif" font-size="9.38" font-weight="bold" fill="#000" textLength="39.92" lengthAdjust="spacingAndGlyphs">shTtyh1</text>
<text x="1729.56" y="20.00" font-family="'Liberation Serif', serif" font-size="14.81" font-weight="bold" fill="#000" textLength="9.87" lengthAdjust="spacingAndGlyphs" >II</text>
</svg></body></html>
